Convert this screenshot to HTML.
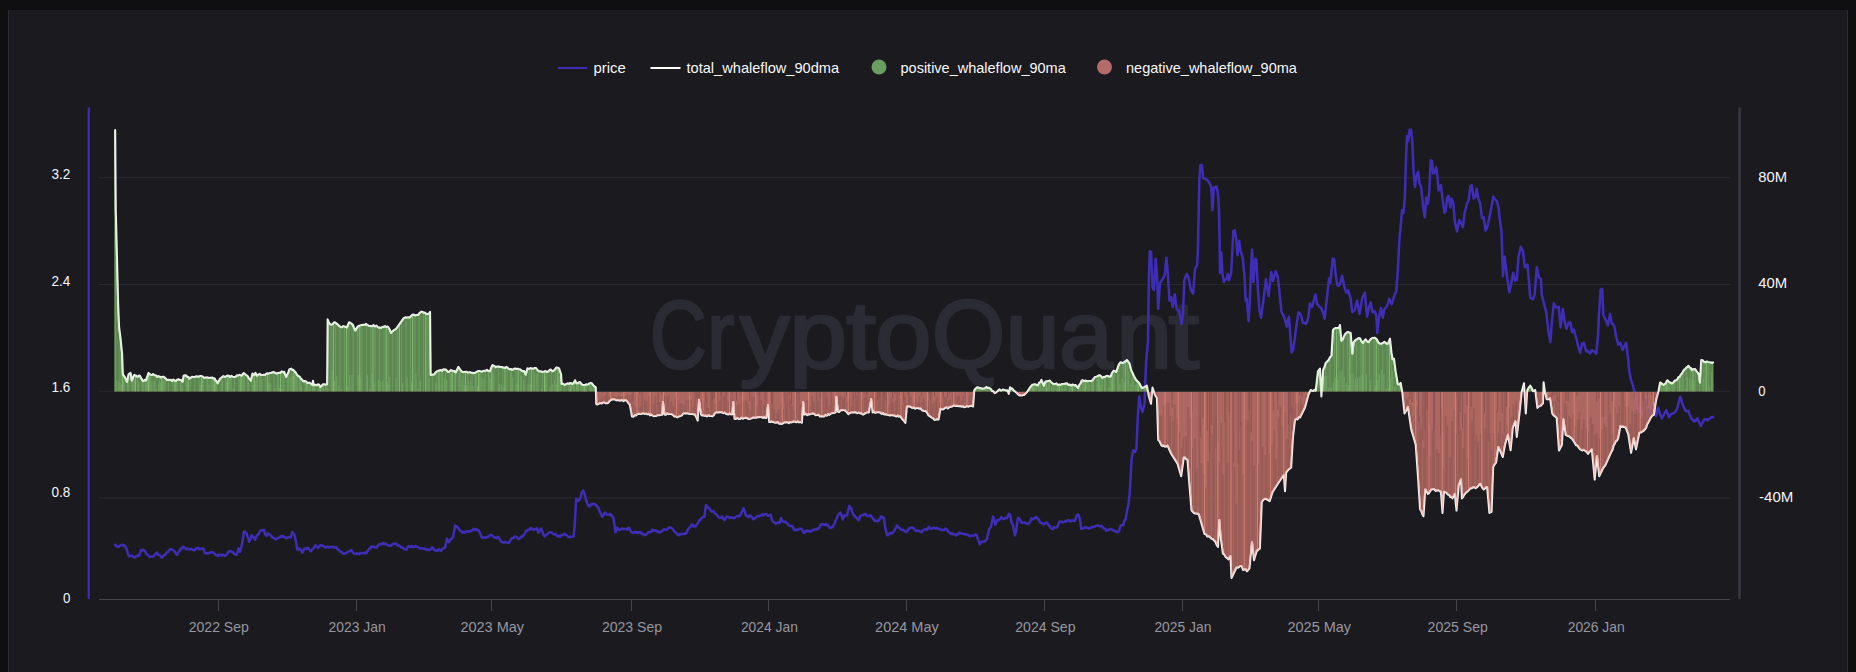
<!DOCTYPE html>
<html><head><meta charset="utf-8"><title>chart</title>
<style>
html,body{margin:0;padding:0;background:#0f0f11;}
body{width:1856px;height:672px;overflow:hidden;position:relative;font-family:"Liberation Sans", sans-serif;}
#panel{position:absolute;left:8px;top:10px;width:1838px;height:662px;background:#1b1a1f;border-left:1px solid #2d2c36;border-right:1px solid #2d2c36;}
</style></head><body>
<div id="panel"></div>
<svg width="1856" height="672" viewBox="0 0 1856 672" style="position:absolute;left:0;top:0" font-family='"Liberation Sans", sans-serif'><defs><clipPath id="ca"><path d="M114.2,391.8 L114.2,130.0 L115.2,130.0 L115.8,210.0 L118.2,305.0 L119.1,326.8 L120.6,338.7 L122.1,353.6 L122.9,374.4 L125.1,377.4 L127.0,381.8 L128.5,374.4 L130.6,372.9 L131.8,380.4 L134.0,375.1 L135.0,375.3 L136.0,375.5 L137.0,376.6 L138.0,376.6 L139.0,375.4 L140.0,375.9 L141.4,378.6 L142.9,381.1 L143.9,380.6 L144.9,379.8 L145.9,380.4 L148.5,372.9 L151.1,375.1 L152.1,375.0 L153.1,374.1 L154.1,374.8 L155.1,375.3 L156.2,375.4 L157.2,376.8 L158.5,376.1 L159.8,376.7 L161.0,377.4 L162.3,376.8 L163.5,376.7 L164.7,377.5 L166.0,378.8 L167.2,379.9 L168.4,379.7 L169.6,380.0 L170.9,379.8 L172.1,381.0 L173.4,379.5 L174.6,380.5 L175.9,380.9 L177.1,379.7 L178.4,379.3 L179.7,379.7 L181.1,380.0 L182.6,381.7 L183.6,375.6 L184.9,375.2 L186.3,375.4 L187.3,377.0 L188.4,376.9 L189.4,378.5 L192.0,376.8 L193.4,376.9 L194.8,376.9 L196.3,376.3 L197.7,376.6 L199.1,376.4 L200.3,375.9 L201.6,376.1 L202.8,376.6 L204.1,377.7 L205.3,377.6 L206.5,377.5 L207.7,377.3 L209.0,377.9 L210.2,377.7 L211.4,377.8 L212.4,377.6 L213.5,378.6 L214.5,378.2 L215.5,380.3 L216.6,381.1 L217.6,383.3 L220.1,378.5 L221.1,377.8 L222.2,376.9 L223.2,376.1 L224.6,376.7 L226.0,376.4 L227.4,375.5 L228.8,375.8 L230.1,377.0 L231.4,375.8 L232.6,376.6 L233.9,377.1 L235.3,377.0 L236.8,375.3 L238.2,375.4 L239.6,374.8 L241.6,375.6 L243.7,373.0 L246.2,375.1 L247.5,375.8 L248.8,378.2 L250.8,380.7 L252.4,373.5 L254.4,375.1 L255.4,372.7 L257.0,375.6 L259.5,373.8 L260.5,374.5 L261.6,375.1 L262.6,375.1 L263.9,374.8 L265.1,374.9 L266.4,373.4 L267.7,373.3 L268.9,373.4 L270.2,372.9 L271.4,372.7 L272.7,372.2 L273.9,372.0 L275.3,372.9 L276.6,373.5 L278.0,373.0 L279.2,372.7 L280.4,372.8 L281.7,371.4 L282.9,372.3 L284.1,371.7 L286.2,376.8 L287.2,374.6 L288.2,372.8 L289.2,369.5 L291.3,368.6 L292.3,370.0 L293.3,369.8 L294.3,371.0 L295.7,372.5 L297.0,374.7 L298.4,376.1 L299.6,376.5 L300.8,378.6 L301.9,379.3 L303.1,381.2 L304.5,380.9 L305.9,381.2 L307.3,382.9 L308.7,382.8 L309.9,382.8 L311.1,383.7 L312.3,384.8 L313.0,380.7 L313.8,385.3 L315.2,384.8 L316.5,385.3 L317.9,384.3 L319.2,384.8 L320.5,386.9 L323.0,384.3 L324.4,384.2 L325.7,384.4 L327.1,384.3 L327.6,319.3 L329.0,322.6 L330.4,324.5 L331.5,324.5 L332.6,324.1 L333.8,322.5 L334.9,322.3 L336.4,323.4 L337.8,324.5 L339.3,326.0 L340.6,326.9 L341.8,327.3 L343.1,326.1 L344.3,326.4 L345.6,326.8 L346.8,327.5 L349.0,322.3 L350.2,322.6 L351.5,323.7 L352.7,324.5 L354.0,327.7 L355.4,330.5 L356.5,328.6 L357.6,326.6 L358.7,326.0 L360.2,325.4 L361.7,324.9 L363.1,324.8 L364.6,325.1 L366.1,323.8 L367.1,324.9 L368.1,325.3 L369.1,326.0 L370.6,326.1 L372.1,326.2 L373.5,325.0 L375.0,326.4 L376.5,325.6 L377.5,326.7 L378.5,327.5 L379.5,327.5 L380.9,327.9 L382.2,327.0 L383.6,326.8 L385.0,326.1 L386.3,326.9 L387.7,326.5 L388.8,327.9 L390.0,330.1 L391.1,333.0 L392.3,331.5 L393.5,330.4 L394.7,329.7 L395.9,329.0 L403.3,318.6 L404.5,317.6 L405.7,317.3 L406.9,317.4 L408.1,317.1 L409.3,317.6 L410.8,316.4 L412.3,314.7 L413.8,314.6 L415.2,315.4 L416.7,315.0 L418.2,314.9 L419.3,313.2 L420.4,312.3 L421.5,311.6 L422.7,312.0 L423.9,312.6 L425.2,312.8 L426.4,314.1 L427.6,314.0 L428.9,313.5 L430.1,311.9 L430.7,375.0 L431.8,374.8 L433.0,374.6 L434.1,374.5 L435.4,372.6 L436.6,371.5 L437.9,371.0 L439.2,370.4 L440.6,370.0 L441.9,370.7 L443.3,369.2 L444.6,369.5 L446.1,369.6 L447.5,371.5 L448.6,372.1 L449.8,371.1 L450.9,370.1 L452.0,370.5 L453.2,371.2 L454.5,370.9 L455.7,372.4 L457.0,369.7 L458.4,366.8 L460.9,370.5 L462.2,371.7 L463.6,371.9 L464.9,372.0 L466.3,371.6 L467.6,372.4 L468.9,372.2 L470.1,371.9 L471.4,373.0 L472.6,372.7 L473.9,373.2 L475.1,372.7 L476.6,371.8 L478.0,371.1 L479.5,371.0 L480.8,371.4 L482.0,371.5 L483.2,371.0 L484.5,370.8 L485.8,370.6 L487.0,369.8 L488.4,371.0 L489.9,371.3 L491.2,367.7 L492.5,365.0 L493.6,365.8 L494.8,366.2 L495.9,367.2 L497.4,366.4 L498.9,366.5 L500.3,367.0 L501.8,367.0 L503.3,367.5 L504.3,367.6 L505.3,367.9 L506.3,366.8 L507.4,367.3 L508.6,368.7 L509.7,369.3 L510.8,369.0 L512.3,369.8 L513.8,368.8 L515.2,368.5 L516.7,369.0 L518.0,368.8 L519.2,369.1 L520.5,369.5 L521.7,370.6 L523.0,371.4 L524.2,371.0 L525.7,374.5 L527.4,368.3 L528.8,368.9 L530.3,368.1 L531.7,368.4 L533.2,368.6 L534.6,368.0 L536.1,368.1 L537.5,369.9 L539.0,371.2 L540.5,371.3 L541.8,371.8 L543.0,371.8 L544.2,371.4 L545.5,370.9 L546.8,372.0 L548.0,371.5 L549.4,370.2 L550.7,369.5 L552.4,371.3 L553.7,370.6 L554.9,369.6 L556.2,367.5 L557.7,367.7 L559.1,368.3 L561.1,374.2 L561.7,383.9 L563.1,383.7 L564.5,384.7 L566.0,384.3 L567.4,383.3 L568.8,383.9 L569.9,383.1 L571.0,382.9 L572.2,384.1 L573.3,383.2 L575.1,380.2 L576.3,383.2 L577.8,383.2 L579.2,382.1 L580.3,382.2 L581.5,384.1 L582.6,385.1 L583.7,384.9 L584.8,385.0 L586.0,384.3 L587.1,384.5 L588.2,384.3 L589.4,383.4 L590.7,382.9 L591.9,383.5 L594.1,386.1 L595.8,387.3 L596.2,404.0 L597.6,404.5 L598.9,403.7 L600.3,403.1 L601.6,403.6 L603.0,402.5 L604.3,402.5 L605.6,403.3 L606.9,403.3 L608.2,402.8 L609.5,401.2 L610.7,400.2 L612.0,399.5 L613.5,399.4 L615.0,399.5 L616.4,400.4 L617.9,400.0 L619.4,400.7 L620.7,400.5 L622.1,399.9 L623.4,401.2 L624.8,400.1 L626.1,400.3 L627.3,401.7 L628.6,403.4 L629.8,404.7 L632.0,416.6 L633.4,416.7 L634.7,415.3 L636.0,415.6 L637.4,414.3 L638.8,413.7 L640.2,413.9 L641.6,413.9 L643.1,413.1 L644.5,414.0 L646.0,413.6 L647.4,414.3 L648.6,413.7 L649.9,415.4 L651.1,414.6 L652.4,415.5 L653.6,416.2 L654.9,416.1 L656.4,415.9 L657.9,415.2 L659.3,415.2 L660.8,415.0 L662.3,414.6 L663.0,402.0 L664.5,414.6 L665.8,414.9 L667.1,413.5 L668.5,414.2 L669.8,413.9 L671.3,414.1 L672.8,414.9 L674.2,416.4 L675.7,416.6 L677.2,417.3 L678.7,416.6 L680.2,416.1 L681.6,415.6 L683.1,413.9 L684.6,413.2 L685.8,413.5 L687.0,413.5 L688.2,413.6 L689.4,414.1 L690.6,413.9 L692.1,414.0 L693.5,414.4 L695.0,414.6 L696.4,417.6 L697.7,420.6 L699.0,399.8 L701.0,414.6 L702.1,415.6 L703.2,415.4 L704.4,415.9 L705.5,415.4 L707.0,416.4 L708.5,415.3 L709.9,416.0 L711.4,416.1 L712.6,416.2 L713.8,415.2 L715.0,413.2 L716.2,412.5 L717.4,412.4 L718.9,412.5 L720.3,412.0 L721.8,412.5 L723.3,413.2 L724.6,412.6 L725.9,413.8 L727.2,414.2 L728.4,414.5 L729.7,413.4 L731.0,414.5 L732.3,414.3 L733.3,402.0 L734.5,418.8 L735.9,419.0 L737.3,417.9 L738.7,419.1 L740.0,419.1 L741.4,417.7 L742.8,418.8 L744.2,417.9 L745.7,417.8 L747.2,418.1 L748.6,419.1 L750.1,418.9 L751.6,418.4 L753.1,417.6 L754.6,417.8 L756.0,417.8 L757.5,417.2 L759.0,417.3 L760.2,416.9 L761.5,417.2 L762.8,418.0 L764.0,416.8 L765.2,417.9 L766.5,417.9 L768.0,405.0 L769.2,422.1 L770.4,422.1 L771.5,421.4 L772.7,422.0 L773.9,422.4 L775.2,422.8 L776.5,422.7 L777.8,422.0 L779.0,423.8 L780.3,423.6 L781.6,424.0 L782.9,423.3 L784.4,422.4 L785.9,422.6 L787.3,422.0 L788.8,423.2 L790.3,422.1 L791.8,422.4 L793.3,421.5 L794.8,421.7 L796.2,422.3 L797.7,421.3 L799.1,422.4 L800.5,421.9 L801.9,422.8 L803.2,402.0 L804.4,414.6 L805.7,413.8 L807.1,415.1 L808.4,414.3 L809.8,414.4 L811.1,413.9 L812.6,413.5 L814.1,413.7 L815.6,415.2 L817.0,415.0 L818.5,414.7 L820.0,416.6 L821.5,416.3 L823.0,416.4 L824.2,416.5 L825.5,414.8 L826.8,415.8 L828.0,414.0 L829.2,415.0 L830.5,413.9 L831.8,413.4 L833.1,412.9 L834.4,412.9 L835.7,412.4 L836.4,396.8 L837.9,411.7 L839.1,412.1 L840.3,410.6 L841.5,410.0 L842.7,410.3 L843.9,409.9 L845.4,410.9 L846.8,412.1 L848.3,414.3 L849.5,413.3 L850.7,412.7 L851.9,412.6 L853.1,412.4 L854.3,412.4 L855.7,412.2 L857.1,413.3 L858.6,412.6 L860.0,413.2 L861.0,413.7 L862.0,413.6 L863.0,414.7 L864.5,413.9 L866.0,412.7 L867.4,412.6 L868.9,412.5 L871.2,399.1 L872.6,412.5 L873.9,411.6 L875.3,412.9 L876.6,412.6 L878.0,411.9 L879.3,412.5 L880.5,412.8 L881.8,414.0 L883.0,412.9 L884.3,414.5 L885.5,414.2 L886.8,414.7 L888.3,414.9 L889.8,415.6 L891.2,415.0 L892.7,415.4 L894.2,415.5 L895.4,416.0 L896.6,416.6 L897.8,415.6 L899.0,416.7 L900.2,416.2 L901.5,418.2 L902.8,419.8 L904.1,421.1 L905.4,422.9 L906.9,406.5 L908.2,406.6 L909.5,406.4 L910.8,407.0 L912.1,408.0 L913.6,407.4 L915.1,408.8 L916.5,408.0 L918.0,408.0 L919.5,408.8 L920.7,408.5 L921.9,410.3 L923.1,410.8 L924.3,410.9 L925.5,411.0 L926.5,412.1 L927.5,413.5 L928.5,415.5 L930.0,416.2 L931.5,417.6 L932.9,418.2 L934.4,419.9 L935.8,419.7 L937.2,419.3 L938.6,419.6 L940.4,408.8 L941.9,409.4 L943.4,409.2 L944.8,408.1 L946.3,407.3 L947.8,408.4 L949.3,407.3 L950.8,406.7 L952.3,406.4 L953.7,405.5 L955.2,405.9 L956.7,405.8 L958.0,406.0 L959.2,406.3 L960.5,406.0 L961.7,406.8 L963.0,406.2 L964.2,407.3 L965.7,406.7 L967.2,406.3 L968.7,406.7 L970.1,405.9 L971.6,405.8 L973.1,406.5 L974.3,390.2 L975.4,388.8 L976.5,387.7 L977.6,387.2 L979.1,387.7 L980.5,387.9 L982.0,388.6 L983.5,388.4 L984.5,388.2 L985.5,387.8 L986.5,386.9 L987.6,388.1 L988.8,387.8 L989.9,388.2 L991.0,389.0 L992.2,391.3 L993.5,391.2 L994.7,393.2 L995.9,392.6 L997.2,391.5 L998.4,390.2 L999.5,389.2 L1000.6,390.4 L1001.8,390.3 L1002.9,389.4 L1004.4,389.9 L1005.8,390.4 L1007.3,390.2 L1008.8,393.9 L1010.0,387.2 L1011.1,388.7 L1012.2,388.4 L1013.3,389.9 L1014.8,391.3 L1016.2,392.6 L1017.7,393.9 L1018.7,395.0 L1019.7,395.4 L1020.7,395.4 L1021.8,395.6 L1023.0,394.8 L1024.1,395.0 L1025.2,393.9 L1026.2,393.0 L1027.2,391.8 L1028.2,390.2 L1029.6,387.9 L1030.9,386.3 L1032.1,384.8 L1033.4,384.5 L1034.9,384.1 L1036.3,384.8 L1037.8,385.4 L1039.0,382.8 L1040.3,382.3 L1041.5,379.8 L1043.8,385.7 L1045.3,381.5 L1046.8,381.3 L1048.2,381.1 L1049.7,380.5 L1051.0,381.9 L1052.2,383.1 L1053.5,383.9 L1055.0,384.0 L1056.5,383.3 L1057.9,384.9 L1059.4,384.5 L1060.6,384.7 L1061.8,384.1 L1063.0,384.0 L1064.2,384.0 L1065.4,383.5 L1066.9,383.2 L1068.3,384.9 L1069.8,384.5 L1071.3,385.4 L1072.4,384.5 L1073.5,384.8 L1074.7,385.5 L1075.8,385.0 L1078.0,387.9 L1079.2,384.9 L1080.5,383.4 L1081.7,380.5 L1082.5,380.0 L1083.8,381.2 L1085.0,380.6 L1086.2,380.7 L1087.5,381.2 L1088.8,381.0 L1090.0,381.1 L1091.2,381.0 L1092.5,380.2 L1095.0,376.9 L1096.2,376.6 L1097.5,376.1 L1098.8,375.2 L1100.0,375.3 L1101.2,376.3 L1102.5,377.8 L1103.8,376.7 L1105.0,377.0 L1106.2,376.0 L1107.7,375.8 L1109.1,376.5 L1110.6,376.5 L1111.6,373.7 L1112.7,371.8 L1113.8,370.6 L1116.2,371.9 L1118.8,364.4 L1120.6,362.2 L1123.1,363.1 L1124.4,361.7 L1125.6,361.3 L1126.9,360.0 L1129.4,363.1 L1131.2,370.0 L1135.0,378.1 L1136.2,379.9 L1137.5,381.3 L1138.8,382.5 L1139.8,384.0 L1140.9,386.3 L1141.9,388.1 L1142.9,387.6 L1144.0,387.2 L1145.0,386.9 L1146.9,385.6 L1148.8,396.2 L1151.0,403.8 L1152.5,387.5 L1155.0,395.0 L1156.9,398.1 L1158.2,440.0 L1159.6,441.4 L1161.1,444.9 L1162.5,446.2 L1163.8,445.5 L1165.0,446.7 L1166.2,446.5 L1167.5,445.5 L1171.2,453.8 L1177.5,463.8 L1181.2,476.2 L1183.8,457.5 L1185.0,457.5 L1186.2,459.1 L1187.5,460.0 L1189.0,480.0 L1191.5,510.3 L1192.8,511.9 L1194.2,513.3 L1195.5,513.5 L1196.6,513.7 L1197.7,513.7 L1198.8,514.4 L1204.5,534.0 L1206.0,534.4 L1207.4,536.6 L1208.8,536.2 L1210.3,537.6 L1211.5,538.7 L1212.8,538.9 L1214.0,540.5 L1215.2,541.4 L1216.6,545.0 L1218.0,547.0 L1219.3,520.0 L1220.9,539.0 L1222.9,553.6 L1224.2,554.4 L1225.6,557.1 L1227.0,558.0 L1228.3,559.4 L1230.4,556.0 L1231.5,578.0 L1236.5,567.5 L1237.7,567.8 L1239.0,567.1 L1240.2,565.9 L1241.4,566.0 L1243.0,570.0 L1245.5,569.2 L1247.0,571.3 L1249.5,568.4 L1252.0,542.2 L1254.0,560.2 L1256.9,550.4 L1257.9,550.5 L1258.9,549.2 L1259.9,548.7 L1261.8,502.0 L1263.2,500.1 L1264.5,499.0 L1265.9,498.8 L1267.2,499.6 L1268.4,500.4 L1269.7,501.3 L1272.5,492.3 L1278.2,483.3 L1283.8,475.0 L1285.0,491.2 L1286.2,472.5 L1287.5,470.9 L1288.8,469.4 L1290.0,468.5 L1291.2,467.5 L1293.0,437.5 L1295.0,420.0 L1296.2,419.0 L1297.5,419.4 L1298.8,417.2 L1300.0,417.5 L1305.0,407.5 L1308.6,394.3 L1310.7,390.0 L1312.0,390.6 L1313.2,391.0 L1314.5,389.8 L1315.7,390.7 L1317.9,371.4 L1320.0,368.6 L1321.4,396.4 L1323.1,370.0 L1324.4,367.2 L1325.7,362.9 L1327.1,361.5 L1328.6,360.0 L1330.0,357.1 L1331.4,355.7 L1332.9,330.0 L1334.3,328.7 L1335.7,327.9 L1337.2,327.9 L1338.6,328.3 L1340.0,325.0 L1341.4,340.7 L1342.6,339.5 L1343.8,336.6 L1345.0,334.3 L1347.1,332.1 L1348.3,332.1 L1349.5,332.5 L1350.7,332.9 L1352.4,353.6 L1353.6,342.1 L1354.8,340.8 L1355.9,339.4 L1357.1,339.3 L1358.5,338.1 L1360.0,338.3 L1361.5,341.2 L1362.9,342.9 L1364.3,340.7 L1365.7,339.3 L1367.2,341.5 L1368.6,342.1 L1369.8,340.2 L1370.9,338.9 L1372.1,337.9 L1373.3,338.1 L1374.5,337.6 L1375.7,338.3 L1377.1,339.8 L1378.6,342.7 L1380.0,343.6 L1381.4,343.7 L1382.9,342.9 L1384.3,341.7 L1385.5,342.6 L1386.7,343.7 L1387.9,343.6 L1390.0,338.6 L1391.7,354.3 L1392.6,359.3 L1394.0,358.6 L1395.7,371.4 L1397.9,384.3 L1399.3,384.4 L1400.7,382.9 L1402.3,392.3 L1404.5,413.5 L1405.6,411.4 L1406.8,409.4 L1407.9,406.8 L1411.2,429.1 L1415.7,444.8 L1417.9,476.0 L1420.1,509.5 L1421.2,510.9 L1422.4,514.4 L1423.5,516.2 L1425.3,489.4 L1426.7,491.6 L1428.0,493.9 L1429.1,492.9 L1430.2,491.2 L1431.3,489.4 L1432.7,489.3 L1434.1,489.1 L1435.5,491.0 L1436.9,490.5 L1438.2,490.2 L1439.6,491.2 L1440.9,491.7 L1442.5,512.9 L1444.0,491.7 L1445.3,492.2 L1446.6,493.0 L1447.9,494.6 L1449.2,495.0 L1450.3,497.0 L1451.4,496.8 L1452.5,498.4 L1454.8,493.9 L1456.5,510.6 L1458.8,485.0 L1461.0,479.4 L1461.9,498.4 L1463.2,496.8 L1464.6,494.3 L1465.9,492.8 L1467.3,491.8 L1468.7,490.4 L1470.1,488.8 L1471.5,488.3 L1472.9,487.4 L1474.3,487.2 L1475.7,488.2 L1477.1,487.2 L1478.2,486.1 L1479.3,484.4 L1480.4,483.8 L1481.5,486.4 L1482.7,488.4 L1483.8,489.4 L1484.9,488.6 L1486.0,487.3 L1487.1,487.2 L1489.4,512.9 L1491.6,511.8 L1493.2,467.1 L1494.7,464.3 L1496.1,462.6 L1498.3,447.0 L1500.5,451.5 L1502.8,457.0 L1505.0,444.8 L1507.9,434.7 L1510.6,450.3 L1512.8,428.0 L1514.2,423.9 L1515.5,421.3 L1516.8,436.9 L1519.5,413.5 L1521.8,391.2 L1524.0,383.3 L1525.8,413.5 L1527.3,390.0 L1528.8,387.5 L1530.2,385.6 L1531.6,387.7 L1532.9,391.2 L1535.2,390.0 L1537.4,407.9 L1538.5,406.7 L1539.6,406.0 L1540.7,405.7 L1543.0,403.4 L1543.6,382.2 L1544.9,391.4 L1546.7,399.2 L1547.8,399.0 L1548.9,399.2 L1550.0,398.1 L1552.3,413.7 L1553.8,415.6 L1555.2,416.5 L1556.7,418.2 L1559.0,450.5 L1560.5,447.6 L1561.9,445.0 L1563.4,419.3 L1565.7,434.9 L1567.2,435.7 L1568.6,436.1 L1570.1,437.1 L1571.2,438.2 L1572.3,439.1 L1573.5,440.9 L1574.6,442.7 L1576.0,445.2 L1577.4,445.4 L1578.8,447.7 L1580.2,449.4 L1581.3,449.9 L1582.5,450.6 L1583.6,449.7 L1584.7,450.5 L1585.8,451.2 L1586.9,452.3 L1588.0,453.9 L1589.3,452.2 L1590.5,450.8 L1591.8,449.4 L1594.7,479.6 L1596.9,456.1 L1599.2,476.2 L1603.6,467.3 L1604.7,466.3 L1605.9,464.2 L1607.0,461.7 L1611.5,451.7 L1612.6,449.7 L1613.7,445.6 L1614.8,443.8 L1615.9,441.1 L1617.1,440.5 L1618.2,438.3 L1620.4,426.0 L1621.5,427.0 L1622.7,426.5 L1623.8,427.0 L1624.9,427.1 L1626.0,428.4 L1627.1,431.4 L1628.2,433.8 L1631.1,452.8 L1633.8,438.3 L1636.0,449.4 L1639.4,432.7 L1640.8,432.6 L1642.2,431.6 L1643.6,430.8 L1645.0,429.3 L1646.1,427.9 L1647.2,424.4 L1648.3,422.6 L1650.5,418.2 L1651.6,416.4 L1652.8,415.3 L1653.9,414.8 L1656.1,400.3 L1658.4,391.4 L1660.1,382.4 L1661.4,383.2 L1662.6,384.3 L1663.9,384.7 L1665.0,384.0 L1666.2,382.1 L1667.3,380.2 L1668.4,381.3 L1669.5,382.3 L1670.7,382.6 L1671.8,383.5 L1673.3,382.5 L1674.7,380.5 L1676.2,380.2 L1677.3,379.3 L1678.5,376.9 L1679.6,376.8 L1680.7,374.6 L1681.8,373.5 L1683.0,371.4 L1684.1,369.7 L1685.2,369.0 L1686.3,367.5 L1687.4,367.0 L1688.5,365.7 L1689.6,367.5 L1690.8,367.9 L1691.9,370.1 L1693.0,369.0 L1694.1,369.4 L1695.2,369.0 L1696.5,371.0 L1697.7,372.5 L1699.0,374.6 L1699.9,382.4 L1701.2,360.1 L1702.6,360.3 L1703.9,361.7 L1705.3,362.3 L1706.8,361.4 L1708.2,361.9 L1709.7,362.3 L1710.8,362.2 L1712.0,363.1 L1713.1,362.3 L1713.5,362.3 L1713.5,391.8Z"/></clipPath><clipPath id="up"><rect x="100" y="100" width="1640" height="291.75"/></clipPath><clipPath id="dn"><rect x="100" y="391.75" width="1640" height="208.25"/></clipPath></defs><rect x="99" y="177.25" width="1631" height="1" fill="#2a2a31"/><rect x="99" y="284.0" width="1631" height="1" fill="#2a2a31"/><rect x="99" y="390.75" width="1631" height="1" fill="#2a2a31"/><rect x="99" y="497.5" width="1631" height="1" fill="#2a2a31"/><rect x="99" y="599" width="1631" height="1" fill="#45454d"/><rect x="218" y="600" width="1" height="11" fill="#45454d"/><text x="188.7" y="632" font-size="15" fill="#9797a0" textLength="60.2" lengthAdjust="spacingAndGlyphs">2022 Sep</text><rect x="356" y="600" width="1" height="11" fill="#45454d"/><text x="328.6" y="632" font-size="15" fill="#9797a0" textLength="57.0" lengthAdjust="spacingAndGlyphs">2023 Jan</text><rect x="491" y="600" width="1" height="11" fill="#45454d"/><text x="460.4" y="632" font-size="15" fill="#9797a0" textLength="63.6" lengthAdjust="spacingAndGlyphs">2023 May</text><rect x="631" y="600" width="1" height="11" fill="#45454d"/><text x="601.9" y="632" font-size="15" fill="#9797a0" textLength="60.2" lengthAdjust="spacingAndGlyphs">2023 Sep</text><rect x="768" y="600" width="1" height="11" fill="#45454d"/><text x="740.9" y="632" font-size="15" fill="#9797a0" textLength="57.0" lengthAdjust="spacingAndGlyphs">2024 Jan</text><rect x="906" y="600" width="1" height="11" fill="#45454d"/><text x="875.1" y="632" font-size="15" fill="#9797a0" textLength="63.6" lengthAdjust="spacingAndGlyphs">2024 May</text><rect x="1044" y="600" width="1" height="11" fill="#45454d"/><text x="1015.3" y="632" font-size="15" fill="#9797a0" textLength="60.2" lengthAdjust="spacingAndGlyphs">2024 Sep</text><rect x="1182" y="600" width="1" height="11" fill="#45454d"/><text x="1154.4" y="632" font-size="15" fill="#9797a0" textLength="57.0" lengthAdjust="spacingAndGlyphs">2025 Jan</text><rect x="1318" y="600" width="1" height="11" fill="#45454d"/><text x="1287.5" y="632" font-size="15" fill="#9797a0" textLength="63.6" lengthAdjust="spacingAndGlyphs">2025 May</text><rect x="1456" y="600" width="1" height="11" fill="#45454d"/><text x="1427.6" y="632" font-size="15" fill="#9797a0" textLength="60.2" lengthAdjust="spacingAndGlyphs">2025 Sep</text><rect x="1595" y="600" width="1" height="11" fill="#45454d"/><text x="1567.7" y="632" font-size="15" fill="#9797a0" textLength="57.0" lengthAdjust="spacingAndGlyphs">2026 Jan</text><rect x="87.6" y="107.5" width="2.3" height="491.4" fill="#3f2cb6"/><rect x="1738.4" y="107.5" width="2.4" height="491.4" fill="#3b3a43"/><text x="51.5" y="178.9" font-size="15" fill="#f6f6f8" textLength="18.8" lengthAdjust="spacingAndGlyphs">3.2</text><text x="51.5" y="285.9" font-size="15" fill="#f6f6f8" textLength="18.8" lengthAdjust="spacingAndGlyphs">2.4</text><text x="51.5" y="391.9" font-size="15" fill="#f6f6f8" textLength="18.8" lengthAdjust="spacingAndGlyphs">1.6</text><text x="51.5" y="496.9" font-size="15" fill="#f6f6f8" textLength="18.8" lengthAdjust="spacingAndGlyphs">0.8</text><text x="62.9" y="603.4" font-size="15" fill="#f6f6f8" textLength="7.4" lengthAdjust="spacingAndGlyphs">0</text><text x="1758.2" y="181.9" font-size="15" fill="#f6f6f8" textLength="28.8" lengthAdjust="spacingAndGlyphs">80M</text><text x="1758.2" y="288.29999999999995" font-size="15" fill="#f6f6f8" textLength="28.9" lengthAdjust="spacingAndGlyphs">40M</text><text x="1758.2" y="396.0" font-size="15" fill="#f6f6f8" textLength="7.3" lengthAdjust="spacingAndGlyphs">0</text><text x="1759" y="502.4" font-size="15" fill="#f6f6f8" textLength="34.3" lengthAdjust="spacingAndGlyphs">-40M</text><text y="368.3" font-size="96" fill="#2b2b33" stroke="#2b2b33" stroke-width="2.6" stroke-linejoin="round"><tspan x="649.78" textLength="57.09" lengthAdjust="spacingAndGlyphs">C</tspan><tspan x="706.95" textLength="27.57" lengthAdjust="spacingAndGlyphs">r</tspan><tspan x="739.75" textLength="49.99" lengthAdjust="spacingAndGlyphs">y</tspan><tspan x="789.08" textLength="58.20" lengthAdjust="spacingAndGlyphs">p</tspan><tspan x="846.14" textLength="30.15" lengthAdjust="spacingAndGlyphs">t</tspan><tspan x="874.93" textLength="56.69" lengthAdjust="spacingAndGlyphs">o</tspan><tspan x="931.74" textLength="73.60" lengthAdjust="spacingAndGlyphs">Q</tspan><tspan x="1005.43" textLength="54.23" lengthAdjust="spacingAndGlyphs">u</tspan><tspan x="1058.97" textLength="53.90" lengthAdjust="spacingAndGlyphs">a</tspan><tspan x="1116.05" textLength="56.26" lengthAdjust="spacingAndGlyphs">n</tspan><tspan x="1168.35" textLength="30.92" lengthAdjust="spacingAndGlyphs">t</tspan></text><path d="M115.0,544.8 L116.1,545.7 L117.3,546.7 L118.4,546.8 L119.5,546.2 L120.6,545.2 L121.7,545.1 L122.7,544.8 L123.7,546.0 L124.7,545.4 L126.7,549.3 L128.7,556.0 L129.7,556.3 L130.7,555.7 L131.7,556.0 L132.5,555.8 L133.4,557.1 L134.2,557.6 L135.0,557.3 L135.9,556.4 L136.7,556.0 L137.6,555.4 L138.4,555.9 L139.3,555.5 L140.9,550.1 L141.9,550.8 L142.8,549.7 L143.8,550.1 L144.8,550.8 L145.8,552.6 L146.8,554.3 L147.9,555.1 L149.0,556.5 L150.1,557.1 L151.2,556.2 L152.2,556.8 L153.2,556.3 L154.3,555.5 L155.2,554.5 L156.2,553.1 L157.1,552.6 L158.2,554.6 L159.3,555.1 L160.2,555.6 L161.2,557.3 L162.1,557.6 L163.1,556.1 L164.1,555.1 L165.0,554.9 L166.0,553.4 L167.1,552.0 L168.1,552.1 L169.1,550.3 L170.2,549.3 L171.2,549.2 L172.2,549.7 L173.3,550.4 L174.3,551.0 L175.3,552.5 L176.2,554.3 L177.2,554.8 L178.2,552.6 L179.2,551.3 L180.2,549.8 L181.1,548.3 L182.1,548.6 L183.0,546.8 L184.0,547.1 L185.0,547.7 L186.0,549.3 L187.0,548.5 L188.0,548.9 L189.0,549.6 L190.0,549.5 L191.0,548.8 L192.1,549.5 L193.3,550.3 L194.4,549.8 L195.2,549.9 L196.1,548.4 L196.9,548.1 L198.0,547.8 L199.1,549.3 L200.2,548.8 L201.3,549.2 L202.5,548.1 L203.6,548.8 L204.9,553.1 L206.1,553.5 L207.4,553.1 L208.6,553.4 L209.7,552.8 L210.8,552.3 L211.9,552.1 L212.9,552.4 L214.0,553.0 L215.1,554.3 L216.1,555.5 L217.2,555.1 L218.2,555.9 L219.2,554.4 L220.3,554.8 L221.4,555.7 L222.4,554.6 L223.5,555.0 L224.5,555.9 L225.6,555.5 L226.7,554.6 L227.8,552.7 L228.9,551.4 L229.9,550.8 L231.0,551.6 L232.0,551.8 L233.1,552.4 L234.2,554.1 L235.3,554.3 L236.6,554.8 L238.6,548.4 L240.0,551.8 L242.0,544.3 L244.0,531.7 L244.9,531.8 L245.8,532.6 L246.7,533.4 L247.5,536.8 L248.4,538.2 L249.2,541.8 L250.0,539.4 L250.9,537.8 L251.7,535.1 L252.8,537.1 L253.9,537.5 L255.0,539.8 L255.9,537.4 L256.9,535.7 L257.8,534.7 L258.9,533.8 L260.1,531.2 L261.2,530.1 L262.1,530.4 L263.1,530.5 L264.0,529.7 L265.0,534.2 L266.7,535.9 L267.9,533.4 L269.0,534.0 L270.1,534.7 L271.2,535.9 L272.2,537.5 L273.3,537.8 L274.3,538.1 L275.4,539.3 L276.4,539.2 L277.5,538.2 L278.6,537.7 L279.6,537.6 L280.7,536.2 L281.8,536.9 L282.9,535.9 L283.9,537.1 L285.0,537.2 L286.1,538.3 L287.1,538.1 L288.2,537.2 L289.3,537.3 L290.4,537.6 L292.4,532.1 L293.5,533.6 L294.6,535.1 L296.3,543.4 L297.1,549.3 L297.9,549.7 L298.8,549.4 L299.6,548.4 L300.5,549.6 L301.5,550.8 L302.4,552.6 L303.5,550.4 L304.6,548.4 L305.6,548.4 L306.6,549.1 L307.5,547.9 L308.5,548.4 L310.5,551.4 L311.5,550.6 L312.5,549.3 L313.5,548.1 L314.5,546.8 L315.5,545.1 L316.3,546.3 L317.2,546.8 L318.0,548.1 L318.8,546.8 L319.7,545.9 L320.5,545.1 L321.6,546.1 L322.6,545.4 L323.6,546.1 L324.7,547.1 L325.7,547.6 L326.8,546.9 L327.8,546.8 L328.8,547.6 L329.9,546.7 L330.9,547.3 L331.9,546.7 L333.0,546.8 L334.1,547.7 L335.2,547.6 L336.3,547.1 L337.4,549.3 L338.6,549.6 L339.7,551.4 L340.8,551.5 L341.9,552.4 L343.0,553.8 L344.1,553.5 L345.1,553.5 L346.1,552.8 L347.2,552.6 L348.2,551.5 L349.3,551.2 L350.3,550.9 L351.4,550.1 L352.2,551.5 L353.1,552.7 L353.9,553.4 L354.9,554.1 L356.0,553.9 L357.1,553.1 L358.1,553.8 L359.1,554.2 L360.1,553.1 L361.2,553.4 L362.2,553.1 L363.2,552.9 L364.3,553.5 L365.3,552.6 L366.4,553.1 L367.4,551.4 L368.4,550.0 L369.4,548.5 L370.4,548.4 L371.4,546.4 L372.4,546.8 L373.5,546.7 L374.6,547.1 L375.6,547.6 L376.7,547.5 L377.8,545.7 L378.9,544.8 L379.9,543.9 L381.0,544.4 L382.1,543.8 L383.1,543.1 L384.2,544.3 L385.2,543.3 L386.2,544.3 L387.3,544.8 L388.4,545.5 L389.4,545.6 L390.4,545.9 L391.5,545.4 L392.6,544.1 L393.7,544.0 L394.8,543.8 L395.9,543.6 L396.9,544.1 L397.9,545.8 L399.0,545.4 L400.1,546.2 L401.1,547.5 L402.2,547.3 L403.3,548.2 L404.3,549.3 L405.3,549.2 L406.3,549.8 L407.5,547.5 L408.7,546.0 L409.6,546.6 L410.6,547.1 L411.6,546.0 L412.5,546.8 L413.6,546.9 L414.6,546.8 L415.6,546.1 L416.7,546.5 L417.8,547.1 L418.9,547.5 L420.0,548.8 L421.1,548.3 L422.1,548.3 L423.1,548.7 L424.2,548.5 L425.0,549.2 L425.9,548.9 L426.7,549.8 L427.7,549.2 L428.7,549.8 L429.7,550.2 L430.9,549.0 L432.1,547.2 L433.1,548.2 L434.2,550.2 L435.0,550.2 L435.9,550.3 L436.7,551.0 L437.8,550.6 L438.8,549.3 L439.9,550.2 L440.9,551.0 L441.7,549.5 L442.6,548.7 L443.4,548.5 L445.1,547.2 L447.1,538.8 L448.8,542.2 L449.9,540.6 L450.9,539.3 L452.0,538.3 L453.1,537.1 L455.1,525.5 L455.9,526.4 L456.8,526.2 L457.6,527.6 L458.4,528.0 L459.3,529.8 L460.1,530.5 L460.9,531.1 L461.8,531.6 L462.6,532.6 L463.7,531.9 L464.9,532.6 L466.0,531.5 L467.1,531.2 L468.1,531.6 L469.1,531.3 L470.2,531.5 L471.3,530.5 L472.4,530.3 L473.5,528.8 L474.3,529.9 L475.2,529.2 L476.0,529.8 L476.8,529.4 L477.7,530.4 L478.5,530.1 L479.5,532.0 L480.5,534.0 L481.5,537.1 L482.7,537.9 L484.0,537.3 L485.2,537.6 L486.0,537.8 L486.9,536.9 L487.7,536.8 L488.6,536.7 L489.6,535.4 L490.5,534.8 L491.5,535.0 L492.5,535.6 L493.5,537.1 L494.3,537.3 L495.2,537.7 L496.0,537.6 L497.0,538.3 L497.9,536.9 L498.9,537.6 L500.0,539.7 L501.1,541.5 L501.9,541.7 L502.8,542.3 L503.6,542.7 L504.8,542.0 L505.9,542.2 L507.1,542.4 L508.2,543.0 L509.4,542.2 L510.2,540.2 L511.1,539.5 L511.9,538.1 L512.7,538.2 L513.6,538.0 L514.4,536.8 L515.2,536.4 L516.1,536.4 L516.9,537.1 L517.7,538.4 L518.6,539.0 L519.4,538.8 L520.2,538.0 L521.1,536.6 L521.9,536.5 L522.7,536.4 L523.6,534.9 L524.4,534.3 L526.1,530.5 L526.9,530.9 L527.8,530.2 L528.6,529.8 L529.4,529.8 L530.3,528.1 L531.1,528.1 L531.9,529.2 L532.8,529.0 L533.6,530.1 L534.7,529.3 L535.9,529.3 L537.0,528.1 L538.3,532.6 L539.2,531.8 L540.2,529.4 L541.1,528.5 L542.2,530.9 L543.3,534.3 L544.5,536.5 L545.3,535.6 L546.2,535.1 L547.0,534.3 L548.0,533.6 L549.1,532.6 L550.2,532.2 L551.2,532.1 L552.3,533.2 L553.4,534.2 L554.5,534.3 L555.5,534.1 L556.5,535.4 L557.5,536.2 L558.5,535.6 L559.5,536.8 L560.5,536.7 L561.5,535.0 L562.5,535.2 L563.5,534.5 L564.5,533.8 L565.5,534.8 L566.6,535.1 L567.7,536.1 L568.7,537.1 L569.7,537.1 L570.7,536.7 L571.7,537.0 L572.7,536.5 L573.7,536.5 L575.0,520.1 L576.2,498.7 L577.3,499.7 L578.4,500.9 L580.4,498.4 L581.7,492.5 L583.2,490.4 L584.3,493.2 L585.4,497.6 L586.2,500.3 L587.1,502.6 L587.9,505.1 L589.6,506.4 L590.4,505.1 L591.3,505.0 L592.1,503.7 L592.9,504.3 L593.8,504.0 L594.6,504.2 L595.5,504.5 L596.5,505.8 L597.4,506.7 L598.4,508.2 L599.4,510.4 L600.4,513.1 L602.4,516.8 L603.3,515.3 L604.2,513.3 L605.1,512.6 L607.1,514.8 L608.1,514.7 L609.2,514.8 L610.2,514.1 L611.3,514.8 L612.1,516.5 L613.0,517.1 L613.8,519.3 L615.5,532.6 L617.1,527.6 L617.9,528.8 L618.8,529.7 L619.6,530.1 L620.7,529.7 L621.9,528.5 L623.0,528.8 L624.1,529.0 L625.2,528.9 L626.3,529.3 L627.3,529.6 L628.2,527.9 L629.2,528.1 L630.2,530.2 L631.2,531.9 L632.2,532.6 L633.2,532.8 L634.2,532.9 L635.3,531.7 L636.3,532.1 L637.3,532.9 L638.4,532.1 L639.5,532.8 L640.5,532.1 L641.6,533.8 L642.8,533.6 L643.9,535.1 L645.0,535.0 L646.1,534.7 L647.2,533.5 L648.3,532.3 L649.4,532.3 L650.5,532.1 L651.3,531.7 L652.2,530.0 L653.0,529.8 L654.1,530.8 L655.3,530.2 L656.4,531.0 L657.5,532.0 L658.6,531.5 L659.7,532.6 L660.8,531.7 L662.0,531.4 L663.1,529.8 L664.2,529.3 L665.3,529.4 L666.4,529.8 L667.2,529.1 L668.1,528.0 L668.9,527.6 L670.0,527.3 L671.0,527.9 L672.0,528.3 L673.1,529.3 L674.1,531.2 L675.1,531.9 L676.1,533.4 L677.1,533.4 L678.1,535.1 L679.1,535.2 L680.2,533.8 L681.2,534.2 L682.3,533.8 L683.4,534.0 L684.5,533.6 L685.6,533.8 L686.4,532.9 L687.3,530.9 L688.1,529.3 L689.2,527.9 L690.4,526.9 L691.5,524.8 L692.5,524.6 L693.5,526.4 L694.6,526.3 L695.6,526.5 L696.7,524.5 L697.9,523.2 L699.0,520.9 L699.8,519.6 L700.7,519.8 L701.5,518.1 L702.4,517.8 L703.4,517.0 L704.3,516.8 L706.0,505.1 L707.2,506.8 L708.4,507.6 L709.2,508.6 L710.1,509.3 L710.9,510.9 L712.0,511.7 L713.1,511.0 L714.2,512.1 L715.3,513.9 L716.4,514.2 L717.5,515.9 L718.6,517.2 L719.7,518.1 L720.9,518.0 L722.0,516.4 L722.9,517.8 L723.8,519.1 L724.7,520.1 L726.7,516.4 L727.7,516.7 L728.7,516.7 L729.7,518.1 L730.9,517.5 L732.2,517.7 L733.4,518.4 L734.5,518.0 L735.5,517.0 L736.5,516.5 L737.6,515.9 L738.5,516.4 L739.5,515.0 L740.4,515.4 L741.4,512.5 L742.4,510.8 L743.4,508.1 L744.2,509.9 L745.1,512.5 L745.9,515.9 L746.7,516.1 L747.6,516.1 L748.4,517.1 L750.1,515.4 L751.2,516.5 L752.3,517.6 L753.4,519.3 L754.5,518.6 L755.7,517.7 L756.8,516.7 L757.8,515.9 L758.9,516.2 L760.0,515.7 L761.0,515.4 L762.0,514.5 L763.0,515.5 L764.1,514.1 L765.1,514.2 L766.1,514.2 L767.1,514.7 L768.1,515.9 L769.3,515.5 L770.5,514.7 L771.6,518.4 L772.7,520.9 L773.8,522.3 L774.9,522.7 L776.0,523.8 L777.0,523.1 L777.9,522.4 L778.8,523.1 L779.8,522.6 L781.0,518.1 L782.7,521.8 L783.6,521.9 L784.6,521.6 L785.5,521.8 L786.5,523.0 L787.5,523.7 L788.5,524.8 L789.6,525.9 L790.8,525.9 L791.9,525.9 L792.9,527.0 L793.9,529.5 L794.9,530.4 L795.8,529.5 L796.8,530.1 L797.7,529.8 L798.8,529.3 L800.0,528.7 L801.1,528.8 L802.2,529.5 L803.3,532.1 L804.4,533.1 L805.2,531.4 L806.1,531.4 L806.9,530.4 L808.0,531.6 L809.1,530.8 L810.2,531.8 L811.3,530.7 L812.5,530.6 L813.6,529.8 L814.7,529.5 L815.7,529.5 L816.8,529.5 L817.8,528.2 L818.9,528.4 L820.0,526.0 L821.1,524.3 L821.9,524.1 L822.8,523.9 L823.6,524.8 L824.4,525.1 L825.3,524.6 L826.1,523.8 L827.2,525.4 L828.3,525.5 L829.4,527.6 L830.5,527.9 L831.7,527.5 L832.8,526.8 L833.6,525.1 L834.5,523.9 L835.3,521.8 L836.1,519.8 L837.0,517.4 L837.8,515.9 L838.6,514.2 L839.5,513.3 L840.3,512.6 L841.1,514.1 L842.0,516.8 L842.8,519.3 L844.5,515.4 L845.3,515.8 L846.2,515.7 L847.0,515.4 L848.1,511.2 L849.2,505.9 L851.2,508.4 L852.2,511.9 L853.3,514.7 L854.3,515.3 L855.2,516.7 L856.2,517.6 L857.0,518.3 L857.9,519.7 L858.7,520.1 L860.3,515.9 L861.3,515.7 L862.4,515.0 L863.4,515.1 L865.4,513.7 L867.0,515.9 L868.1,515.9 L869.3,516.1 L870.4,515.1 L871.4,516.1 L872.5,518.6 L873.5,518.7 L874.5,520.9 L875.6,520.7 L876.8,520.8 L877.9,521.4 L879.0,520.1 L880.1,518.8 L881.2,516.4 L882.0,517.2 L882.9,516.9 L883.7,517.6 L885.4,528.4 L887.1,535.1 L887.9,535.2 L888.8,533.8 L889.6,533.5 L890.7,532.8 L891.8,533.6 L892.9,532.6 L894.0,531.0 L895.0,529.3 L896.0,527.5 L897.1,525.4 L898.2,527.3 L899.3,527.6 L900.4,528.8 L901.5,529.8 L902.7,530.0 L903.8,530.1 L904.6,531.3 L905.5,531.3 L906.3,532.1 L907.1,531.4 L908.0,530.0 L908.8,528.8 L910.0,528.1 L911.3,527.5 L912.5,527.6 L913.5,528.6 L914.4,528.6 L915.3,530.7 L916.3,530.9 L917.3,530.6 L918.4,530.7 L919.5,531.2 L920.5,532.1 L921.5,532.2 L922.6,530.7 L923.7,529.8 L924.7,529.8 L925.5,529.0 L926.4,529.1 L927.2,529.8 L928.8,526.8 L930.8,528.8 L931.8,528.7 L932.8,528.2 L933.8,527.6 L934.8,528.2 L935.9,528.6 L937.0,527.8 L938.0,528.8 L939.0,529.2 L940.1,529.1 L941.2,530.1 L942.2,529.8 L943.2,530.1 L944.3,529.9 L945.4,528.4 L946.4,528.8 L947.5,530.7 L948.6,532.0 L949.7,532.6 L950.8,533.9 L952.0,533.1 L953.1,534.3 L954.2,534.2 L955.3,534.5 L956.4,535.5 L957.5,533.8 L958.6,534.1 L959.7,532.6 L960.8,533.4 L961.8,533.4 L962.9,534.0 L963.9,533.8 L964.9,534.4 L965.9,534.3 L966.9,534.4 L967.9,534.8 L968.9,535.9 L970.0,536.3 L971.0,535.4 L972.0,535.6 L973.1,535.9 L974.2,535.4 L975.3,534.4 L976.4,534.8 L978.1,539.3 L979.8,544.3 L981.5,541.8 L982.3,541.5 L983.2,541.7 L984.0,542.1 L985.0,541.3 L986.0,539.7 L987.0,538.8 L989.0,529.3 L991.0,526.8 L993.1,516.4 L994.2,520.3 L995.3,524.8 L997.3,520.1 L998.2,520.6 L999.1,519.6 L1000.0,519.3 L1001.4,517.1 L1002.3,518.3 L1003.3,518.6 L1004.2,519.0 L1005.2,517.9 L1006.1,518.3 L1007.1,518.1 L1008.6,513.9 L1010.1,514.5 L1011.3,521.7 L1013.1,525.8 L1014.9,535.4 L1016.1,531.2 L1017.9,518.1 L1019.0,518.3 L1020.0,519.7 L1021.0,521.8 L1022.0,522.9 L1023.2,522.4 L1024.4,522.3 L1025.6,523.2 L1026.8,523.5 L1028.0,524.0 L1029.8,522.3 L1031.5,518.3 L1033.3,519.3 L1034.2,518.0 L1035.2,518.1 L1036.1,516.7 L1038.1,519.3 L1039.1,519.9 L1040.1,522.3 L1041.1,523.1 L1042.3,523.2 L1043.5,524.3 L1045.2,523.5 L1046.3,522.5 L1047.4,523.1 L1048.8,525.5 L1049.8,526.1 L1050.8,528.1 L1051.8,528.8 L1052.8,529.2 L1053.8,527.2 L1054.8,527.6 L1055.8,527.5 L1056.9,527.4 L1057.8,525.5 L1058.6,524.1 L1059.5,521.7 L1060.7,521.5 L1061.9,522.3 L1063.1,522.0 L1064.3,521.7 L1065.3,521.1 L1066.4,521.5 L1067.5,520.2 L1068.5,520.2 L1069.5,521.2 L1070.4,520.5 L1071.4,521.1 L1072.6,520.4 L1073.8,521.0 L1075.0,520.5 L1076.8,515.1 L1078.3,514.5 L1080.0,519.3 L1081.2,528.8 L1082.2,528.5 L1083.3,528.2 L1084.5,527.2 L1085.7,527.4 L1086.7,528.0 L1087.7,527.5 L1088.7,528.6 L1089.7,528.5 L1090.7,527.8 L1091.7,527.0 L1092.8,527.3 L1094.0,526.7 L1095.0,526.5 L1096.0,525.7 L1097.0,525.5 L1098.0,525.6 L1099.0,525.9 L1100.0,526.4 L1101.8,525.8 L1103.0,527.8 L1104.2,528.6 L1105.2,528.7 L1106.1,530.8 L1107.1,531.0 L1108.1,529.7 L1109.2,529.5 L1110.2,529.1 L1111.3,529.0 L1112.3,530.2 L1113.3,530.1 L1114.3,530.6 L1115.5,531.2 L1116.7,532.1 L1117.8,532.2 L1119.0,531.0 L1120.5,525.8 L1121.4,525.2 L1122.3,525.3 L1123.2,525.2 L1124.4,520.5 L1125.6,519.3 L1126.8,512.1 L1128.6,503.8 L1129.8,491.9 L1131.5,460.2 L1133.1,450.4 L1135.1,452.0 L1136.4,448.8 L1138.0,412.7 L1139.3,396.4 L1141.0,407.8 L1142.6,411.9 L1144.6,402.9 L1145.4,380.0 L1146.2,360.0 L1148.0,341.8 L1148.9,275.7 L1149.8,251.1 L1151.1,251.6 L1152.5,287.3 L1153.9,290.0 L1155.7,258.8 L1157.0,275.7 L1158.2,308.8 L1160.0,282.9 L1161.2,281.2 L1162.3,279.3 L1163.4,277.9 L1164.6,275.7 L1166.4,257.9 L1167.7,272.1 L1169.5,300.7 L1171.2,297.1 L1172.7,307.0 L1174.8,294.5 L1176.6,308.8 L1177.5,310.0 L1178.4,310.8 L1179.3,311.4 L1181.6,323.9 L1182.9,315.0 L1184.3,280.2 L1185.1,277.9 L1186.0,275.7 L1186.8,273.9 L1187.9,276.5 L1189.1,280.2 L1190.9,290.0 L1192.1,292.3 L1193.2,293.6 L1195.0,268.6 L1196.0,267.1 L1197.1,265.0 L1197.9,250.0 L1199.3,179.8 L1200.5,164.9 L1201.9,164.9 L1203.1,177.5 L1204.2,178.6 L1205.3,179.0 L1206.4,179.2 L1207.5,180.5 L1208.7,181.9 L1209.8,183.5 L1211.2,187.2 L1212.4,210.3 L1213.9,187.2 L1214.8,187.4 L1215.6,186.9 L1216.5,186.5 L1217.9,193.2 L1219.0,209.5 L1219.6,240.0 L1220.0,273.0 L1221.2,252.5 L1222.5,273.9 L1223.9,282.0 L1224.8,280.2 L1225.7,279.5 L1226.6,278.4 L1227.9,273.9 L1228.9,280.2 L1230.0,277.2 L1231.1,273.0 L1232.4,250.0 L1233.3,231.1 L1234.8,230.4 L1236.2,239.3 L1237.5,255.2 L1239.2,240.8 L1240.4,250.7 L1241.6,253.9 L1242.7,257.9 L1244.5,275.7 L1245.7,300.7 L1246.8,298.9 L1248.6,321.2 L1249.8,302.5 L1251.1,266.8 L1252.1,249.8 L1253.4,282.0 L1255.2,258.8 L1256.4,259.6 L1257.9,290.0 L1259.6,311.4 L1261.1,317.7 L1262.9,304.3 L1265.9,279.3 L1268.6,296.2 L1271.2,272.1 L1273.0,281.1 L1273.9,277.3 L1274.8,274.2 L1275.7,271.2 L1276.8,274.7 L1277.9,277.5 L1279.6,293.6 L1281.4,311.4 L1282.2,313.7 L1283.1,314.4 L1283.9,316.8 L1284.9,319.5 L1285.8,322.9 L1286.8,326.6 L1287.8,321.4 L1288.9,316.8 L1291.6,352.5 L1293.4,348.9 L1295.7,331.1 L1298.4,312.3 L1299.5,313.2 L1300.5,314.1 L1301.7,318.0 L1302.9,323.0 L1303.9,323.0 L1304.9,323.1 L1305.9,323.9 L1307.1,321.6 L1308.2,317.7 L1310.0,303.4 L1311.0,305.6 L1312.1,307.0 L1315.4,294.5 L1317.1,304.3 L1318.1,304.6 L1319.2,306.8 L1320.2,307.0 L1321.1,308.1 L1322.0,310.3 L1322.9,312.3 L1324.6,318.6 L1326.8,298.9 L1329.1,278.4 L1330.4,282.9 L1332.7,258.8 L1334.1,258.8 L1335.7,274.8 L1337.5,285.5 L1338.7,285.8 L1339.8,284.6 L1340.9,280.6 L1342.1,275.7 L1344.3,286.4 L1345.3,289.9 L1346.4,292.7 L1348.2,290.0 L1349.3,293.9 L1350.5,298.0 L1352.3,312.3 L1353.4,310.9 L1354.6,310.5 L1355.4,307.5 L1356.3,303.3 L1357.1,300.7 L1359.5,314.1 L1362.1,298.9 L1363.0,296.4 L1363.9,294.6 L1364.8,292.7 L1367.1,316.8 L1368.9,307.9 L1370.7,302.5 L1372.5,312.3 L1373.3,311.3 L1374.2,311.5 L1375.0,311.4 L1376.4,316.8 L1377.3,332.9 L1379.1,316.8 L1380.9,307.9 L1382.7,317.7 L1384.5,308.8 L1385.4,308.3 L1386.2,307.3 L1387.1,306.1 L1388.2,302.5 L1389.3,298.9 L1390.4,301.8 L1391.6,304.3 L1392.8,300.6 L1393.9,297.1 L1395.0,293.9 L1396.1,291.8 L1397.5,275.7 L1398.8,250.7 L1399.5,238.0 L1400.4,228.9 L1402.1,210.2 L1403.4,212.9 L1404.8,198.6 L1406.1,155.7 L1407.0,136.1 L1408.2,141.4 L1409.6,129.8 L1411.1,129.8 L1412.3,141.4 L1413.6,171.8 L1415.0,187.0 L1416.8,174.5 L1418.2,171.8 L1419.5,183.4 L1421.2,187.0 L1423.0,205.7 L1424.8,217.3 L1426.2,197.7 L1427.9,203.9 L1429.3,191.4 L1430.7,160.2 L1432.0,161.1 L1433.2,173.6 L1434.6,172.7 L1436.1,167.3 L1437.3,175.4 L1438.6,190.5 L1439.8,188.0 L1440.9,185.2 L1442.7,200.4 L1444.5,212.9 L1445.7,211.1 L1447.1,197.7 L1448.6,195.9 L1450.4,207.5 L1451.6,198.6 L1453.4,203.0 L1454.6,220.0 L1457.0,231.6 L1459.3,220.0 L1460.3,221.6 L1461.4,223.6 L1462.9,227.1 L1464.6,212.9 L1465.7,208.8 L1466.8,203.9 L1468.6,200.4 L1470.4,186.1 L1471.8,185.2 L1473.6,198.6 L1475.4,196.8 L1476.6,188.8 L1478.4,198.6 L1480.2,203.9 L1482.0,218.2 L1483.8,217.3 L1485.5,230.7 L1487.3,227.1 L1489.6,216.4 L1491.4,207.5 L1493.2,196.8 L1495.0,199.5 L1496.8,201.2 L1498.6,207.5 L1499.8,220.0 L1501.6,232.5 L1502.9,276.2 L1504.6,256.6 L1506.4,271.8 L1509.3,292.3 L1511.1,284.3 L1513.2,272.7 L1515.0,280.7 L1516.8,279.8 L1518.6,255.7 L1519.7,251.9 L1520.7,246.8 L1521.8,248.9 L1523.0,251.2 L1524.8,267.3 L1525.7,266.5 L1526.6,265.9 L1527.5,264.6 L1528.9,280.7 L1530.2,297.7 L1531.1,298.2 L1532.0,298.5 L1532.9,299.5 L1534.6,295.0 L1536.8,267.3 L1539.1,278.0 L1540.9,278.9 L1541.8,295.0 L1543.6,302.1 L1544.5,305.7 L1545.4,309.2 L1546.2,311.8 L1548.6,332.1 L1550.4,342.0 L1552.1,319.6 L1553.9,303.3 L1555.0,305.7 L1556.1,307.3 L1557.0,307.5 L1557.9,307.5 L1558.8,306.8 L1560.5,327.4 L1562.9,309.1 L1564.6,321.6 L1566.4,328.7 L1567.5,325.9 L1568.6,322.5 L1570.4,322.5 L1572.1,332.3 L1573.9,329.6 L1574.8,333.1 L1575.7,336.0 L1576.6,339.3 L1578.4,347.3 L1580.2,352.7 L1582.0,343.8 L1583.8,342.9 L1584.9,346.6 L1586.1,350.9 L1586.9,351.4 L1587.8,350.9 L1588.6,351.8 L1590.0,353.6 L1591.0,351.7 L1592.1,350.0 L1593.3,351.4 L1594.5,351.8 L1596.2,353.6 L1598.0,335.7 L1598.9,314.6 L1600.7,289.6 L1602.1,288.8 L1603.4,315.3 L1604.6,317.9 L1605.7,319.8 L1606.8,322.7 L1607.9,325.2 L1610.0,314.0 L1611.8,323.4 L1612.6,323.9 L1613.5,325.1 L1614.3,326.1 L1615.9,335.7 L1617.1,340.1 L1618.2,344.6 L1619.3,343.9 L1620.4,342.9 L1621.5,346.3 L1622.5,350.0 L1624.3,346.4 L1626.1,342.9 L1627.9,357.1 L1629.3,371.4 L1631.1,380.4 L1632.9,385.7 L1634.6,392.0 L1636.4,403.6 L1638.2,412.5 L1640.0,407.1 L1641.0,411.9 L1642.1,416.1 L1643.3,412.3 L1644.5,407.1 L1646.2,396.4 L1648.0,407.1 L1649.8,414.3 L1651.6,407.1 L1652.5,405.4 L1653.4,405.0 L1654.3,403.6 L1656.1,416.0 L1657.2,412.2 L1658.3,407.6 L1660.0,414.3 L1661.9,418.5 L1663.0,416.2 L1664.1,414.3 L1665.2,412.1 L1666.4,410.0 L1667.2,413.2 L1668.1,414.1 L1668.9,417.2 L1670.0,416.0 L1671.0,414.2 L1672.1,413.5 L1673.2,413.5 L1674.4,412.6 L1675.3,412.0 L1676.2,410.0 L1677.1,408.7 L1680.2,396.7 L1681.1,398.9 L1682.0,402.4 L1682.9,405.1 L1683.9,407.2 L1684.9,409.5 L1685.9,411.2 L1686.7,411.1 L1687.6,411.2 L1688.4,410.9 L1689.4,414.0 L1690.4,416.1 L1691.4,418.6 L1692.4,419.2 L1693.3,420.8 L1694.2,420.3 L1695.2,421.5 L1696.3,420.1 L1697.4,418.2 L1698.5,420.6 L1699.7,423.8 L1700.8,426.0 L1701.9,423.2 L1703.0,422.3 L1704.1,419.3 L1705.2,419.4 L1706.4,419.3 L1707.5,420.4 L1708.4,419.3 L1709.3,418.8 L1710.2,418.2 L1711.2,417.0 L1712.1,417.3 L1713.1,417.0" fill="none" stroke="#3e2eb6" stroke-width="2.5" stroke-linejoin="round" stroke-linecap="round"/><g clip-path="url(#ca)" opacity="0.88"><g clip-path="url(#up)"><rect x="100" y="100" width="1640" height="500" fill="#67975b"/><path d="M115.6,90V600M120.0,90V600M124.4,90V600M128.8,90V600M133.2,90V600M137.6,90V600M142.0,90V600M146.4,90V600M150.8,90V600M155.2,90V600M159.6,90V600M164.0,90V600M168.4,90V600M172.8,90V600M177.2,90V600M181.6,90V600M186.0,90V600M190.4,90V600M194.8,90V600M199.2,90V600M203.6,90V600M208.0,90V600M212.4,90V600M216.8,90V600M221.2,90V600M225.6,90V600M230.0,90V600M234.4,90V600M238.8,90V600M243.2,90V600M247.6,90V600M252.0,90V600M256.4,90V600M260.8,90V600M265.2,90V600M269.6,90V600M274.0,90V600M278.4,90V600M282.8,90V600M287.2,90V600M291.6,90V600M296.0,90V600M300.4,90V600M304.8,90V600M309.2,90V600M313.6,90V600M318.0,90V600M322.4,90V600M326.8,90V600M331.2,90V600M335.6,90V600M340.0,90V600M344.4,90V600M348.8,90V600M353.2,90V600M357.6,90V600M362.0,90V600M366.4,90V600M370.8,90V600M375.2,90V600M379.6,90V600M384.0,90V600M388.4,90V600M392.8,90V600M397.2,90V600M401.6,90V600M406.0,90V600M410.4,90V600M414.8,90V600M419.2,90V600M423.6,90V600M428.0,90V600M432.4,90V600M436.8,90V600M441.2,90V600M445.6,90V600M450.0,90V600M454.4,90V600M458.8,90V600M463.2,90V600M467.6,90V600M472.0,90V600M476.4,90V600M480.8,90V600M485.2,90V600M489.6,90V600M494.0,90V600M498.4,90V600M502.8,90V600M507.2,90V600M511.6,90V600M516.0,90V600M520.4,90V600M524.8,90V600M529.2,90V600M533.6,90V600M538.0,90V600M542.4,90V600M546.8,90V600M551.2,90V600M555.6,90V600M560.0,90V600M564.4,90V600M568.8,90V600M573.2,90V600M577.6,90V600M582.0,90V600M586.4,90V600M590.8,90V600M595.2,90V600M978.0,90V600M982.4,90V600M986.8,90V600M991.2,90V600M1000.0,90V600M1004.4,90V600M1013.2,90V600M1030.8,90V600M1035.2,90V600M1039.6,90V600M1044.0,90V600M1048.4,90V600M1052.8,90V600M1057.2,90V600M1061.6,90V600M1066.0,90V600M1070.4,90V600M1074.8,90V600M1079.2,90V600M1083.6,90V600M1088.0,90V600M1092.4,90V600M1096.8,90V600M1101.2,90V600M1105.6,90V600M1110.0,90V600M1114.4,90V600M1118.8,90V600M1123.2,90V600M1127.6,90V600M1132.0,90V600M1136.4,90V600M1140.8,90V600M1145.2,90V600M1312.4,90V600M1316.8,90V600M1325.6,90V600M1330.0,90V600M1334.4,90V600M1338.8,90V600M1343.2,90V600M1347.6,90V600M1352.0,90V600M1356.4,90V600M1360.8,90V600M1365.2,90V600M1369.6,90V600M1374.0,90V600M1378.4,90V600M1382.8,90V600M1387.2,90V600M1391.6,90V600M1396.0,90V600M1400.4,90V600M1523.6,90V600M1528.0,90V600M1532.4,90V600M1660.0,90V600M1664.4,90V600M1668.8,90V600M1673.2,90V600M1677.6,90V600M1682.0,90V600M1686.4,90V600M1690.8,90V600M1695.2,90V600M1699.6,90V600M1704.0,90V600M1708.4,90V600M1712.8,90V600" stroke="#78ad69" stroke-width="1.1" fill="none"/><path d="M116.7,391.75v-11.0M118.9,391.75v-9.7M121.1,391.75v-7.3M123.3,391.75v-20.9M127.7,391.75v-10.4M132.1,391.75v-18.4M134.3,391.75v-11.9M138.7,391.75v-9.7M143.1,391.75v-11.9M145.3,391.75v-13.4M147.5,391.75v-18.8M149.7,391.75v-19.2M151.9,391.75v-10.1M154.1,391.75v-11.1M156.3,391.75v-3.1M158.5,391.75v-8.3M160.7,391.75v-8.7M162.9,391.75v-11.1M165.1,391.75v-15.5M176.1,391.75v-15.0M180.5,391.75v-15.5M182.7,391.75v-4.9M187.1,391.75v-9.6M200.3,391.75v-6.8M202.5,391.75v-13.1M206.9,391.75v-13.5M209.1,391.75v-7.4M211.3,391.75v-12.4M213.5,391.75v-11.9M215.7,391.75v-12.3M222.3,391.75v-11.9M226.7,391.75v-10.1M228.9,391.75v-21.3M231.1,391.75v-15.1M233.3,391.75v-3.5M239.9,391.75v-12.7M242.1,391.75v-20.1M244.3,391.75v-16.6M248.7,391.75v-10.0M253.1,391.75v-7.0M255.3,391.75v-11.0M257.5,391.75v-18.7M259.7,391.75v-18.7M261.9,391.75v-12.6M268.5,391.75v-9.3M270.7,391.75v-8.7M275.1,391.75v-3.8M277.3,391.75v-19.8M279.5,391.75v-3.9M281.7,391.75v-3.1M283.9,391.75v-20.5M288.3,391.75v-20.3M290.5,391.75v-14.7M292.7,391.75v-16.2M294.9,391.75v-15.9M297.1,391.75v-15.7M299.3,391.75v-17.5M301.5,391.75v-6.4M305.9,391.75v-15.5M310.3,391.75v-13.7M312.5,391.75v-8.7M314.7,391.75v-9.1M319.1,391.75v-4.0M321.3,391.75v-3.7M323.5,391.75v-18.4M325.7,391.75v-20.5M327.9,391.75v-3.3M332.3,391.75v-21.6M334.5,391.75v-10.8M336.7,391.75v-15.2M338.9,391.75v-5.9M341.1,391.75v-3.1M347.7,391.75v-5.5M349.9,391.75v-16.7M352.1,391.75v-16.9M358.7,391.75v-16.9M360.9,391.75v-14.9M367.5,391.75v-16.6M369.7,391.75v-3.3M371.9,391.75v-18.5M374.1,391.75v-8.9M378.5,391.75v-12.2M380.7,391.75v-10.0M382.9,391.75v-11.3M387.3,391.75v-9.9M389.5,391.75v-15.0M396.1,391.75v-13.8M402.7,391.75v-9.3M407.1,391.75v-14.4M411.5,391.75v-10.2M415.9,391.75v-18.3M418.1,391.75v-3.0M420.3,391.75v-11.0M429.1,391.75v-13.9M435.7,391.75v-9.6M442.3,391.75v-20.7M444.5,391.75v-14.5M446.7,391.75v-11.8M451.1,391.75v-18.0M455.5,391.75v-17.7M459.9,391.75v-19.8M462.1,391.75v-12.1M464.3,391.75v-6.6M466.5,391.75v-6.4M468.7,391.75v-9.9M470.9,391.75v-10.6M473.1,391.75v-5.8M475.3,391.75v-21.9M477.5,391.75v-5.0M479.7,391.75v-18.0M481.9,391.75v-14.3M484.1,391.75v-12.9M488.5,391.75v-19.5M490.7,391.75v-13.8M492.9,391.75v-17.8M499.5,391.75v-7.8M501.7,391.75v-6.8M503.9,391.75v-4.6M510.5,391.75v-20.3M512.7,391.75v-14.4M517.1,391.75v-7.9M521.5,391.75v-15.7M523.7,391.75v-11.5M528.1,391.75v-7.2M530.3,391.75v-7.9M534.7,391.75v-18.9M536.9,391.75v-17.9M541.3,391.75v-4.1M545.7,391.75v-15.9M550.1,391.75v-5.0M552.3,391.75v-7.9M554.5,391.75v-12.1M556.7,391.75v-7.5M558.9,391.75v-15.9M561.1,391.75v-16.6M569.9,391.75v-5.7M574.3,391.75v-19.0M576.5,391.75v-11.6M578.7,391.75v-18.6M580.9,391.75v-14.9M583.1,391.75v-7.2M585.3,391.75v-16.6M589.7,391.75v-8.1M591.9,391.75v-6.0M594.1,391.75v-19.0M596.3,391.75v-6.2M976.9,391.75v-10.5M979.1,391.75v-18.7M985.7,391.75v-16.1M987.9,391.75v-18.8M990.1,391.75v-11.6M992.3,391.75v-16.3M998.9,391.75v-18.3M1003.3,391.75v-15.1M1005.5,391.75v-7.7M1007.7,391.75v-9.8M1012.1,391.75v-15.7M1014.3,391.75v-7.6M1029.7,391.75v-9.8M1031.9,391.75v-4.1M1034.1,391.75v-6.7M1036.3,391.75v-11.5M1038.5,391.75v-9.2M1040.7,391.75v-9.9M1042.9,391.75v-4.4M1047.3,391.75v-4.6M1049.5,391.75v-21.6M1051.7,391.75v-5.1M1053.9,391.75v-11.3M1056.1,391.75v-13.3M1058.3,391.75v-20.5M1062.7,391.75v-15.4M1064.9,391.75v-7.7M1069.3,391.75v-19.0M1071.5,391.75v-6.5M1078.1,391.75v-18.8M1080.3,391.75v-9.2M1082.5,391.75v-18.7M1084.7,391.75v-10.0M1089.1,391.75v-7.5M1091.3,391.75v-13.8M1093.5,391.75v-18.6M1097.9,391.75v-12.4M1100.1,391.75v-6.0M1102.3,391.75v-14.0M1104.5,391.75v-16.1M1108.9,391.75v-4.7M1111.1,391.75v-11.4M1113.3,391.75v-16.7M1117.7,391.75v-18.0M1119.9,391.75v-8.4M1122.1,391.75v-12.8M1124.3,391.75v-9.4M1128.7,391.75v-20.2M1130.9,391.75v-8.6M1133.1,391.75v-13.7M1135.3,391.75v-6.7M1137.5,391.75v-9.2M1144.1,391.75v-21.3M1146.3,391.75v-18.4M1148.5,391.75v-15.9M1313.5,391.75v-19.6M1315.7,391.75v-5.6M1324.5,391.75v-15.3M1326.7,391.75v-15.9M1328.9,391.75v-4.1M1331.1,391.75v-3.9M1333.3,391.75v-9.4M1335.5,391.75v-14.4M1337.7,391.75v-11.8M1339.9,391.75v-20.6M1342.1,391.75v-21.8M1344.3,391.75v-14.7M1346.5,391.75v-9.3M1348.7,391.75v-6.0M1350.9,391.75v-17.6M1353.1,391.75v-18.5M1355.3,391.75v-13.2M1357.5,391.75v-13.5M1359.7,391.75v-14.4M1361.9,391.75v-17.1M1366.3,391.75v-17.7M1370.7,391.75v-11.6M1375.1,391.75v-5.5M1377.3,391.75v-12.0M1379.5,391.75v-17.7M1381.7,391.75v-21.8M1383.9,391.75v-17.4M1386.1,391.75v-3.5M1388.3,391.75v-4.1M1390.5,391.75v-13.5M1392.7,391.75v-20.9M1394.9,391.75v-5.8M1399.3,391.75v-6.1M1401.5,391.75v-17.8M1524.7,391.75v-13.0M1529.1,391.75v-18.6M1535.7,391.75v-3.8M1544.5,391.75v-11.6M1661.1,391.75v-15.5M1663.3,391.75v-20.2M1665.5,391.75v-5.9M1667.7,391.75v-16.2M1669.9,391.75v-18.9M1672.1,391.75v-7.4M1674.3,391.75v-9.1M1683.1,391.75v-21.6M1685.3,391.75v-3.6M1687.5,391.75v-15.2M1689.7,391.75v-13.4M1691.9,391.75v-11.8M1694.1,391.75v-11.2M1702.9,391.75v-13.0M1709.5,391.75v-4.8M1711.7,391.75v-19.4M1713.9,391.75v-13.3" stroke="#7db66c" stroke-width="1.1" fill="none"/><path d="M122.2,90V600M135.4,90V600M148.6,90V600M161.8,90V600M175.0,90V600M188.2,90V600M201.4,90V600M214.6,90V600M227.8,90V600M241.0,90V600M254.2,90V600M267.4,90V600M280.6,90V600M293.8,90V600M307.0,90V600M320.2,90V600M333.4,90V600M346.6,90V600M359.8,90V600M373.0,90V600M386.2,90V600M399.4,90V600M412.6,90V600M425.8,90V600M439.0,90V600M452.2,90V600M465.4,90V600M478.6,90V600M491.8,90V600M505.0,90V600M518.2,90V600M531.4,90V600M544.6,90V600M557.8,90V600M571.0,90V600M584.2,90V600M980.2,90V600M993.4,90V600M1006.6,90V600M1033.0,90V600M1046.2,90V600M1059.4,90V600M1072.6,90V600M1085.8,90V600M1099.0,90V600M1112.2,90V600M1125.4,90V600M1138.6,90V600M1310.2,90V600M1323.4,90V600M1336.6,90V600M1349.8,90V600M1363.0,90V600M1376.2,90V600M1389.4,90V600M1534.6,90V600M1666.6,90V600M1679.8,90V600M1693.0,90V600M1706.2,90V600" stroke="#90d27c" stroke-width="1.1" fill="none"/></g><g clip-path="url(#dn)"><rect x="100" y="100" width="1640" height="500" fill="#ae6661"/><path d="M598.5,391.75v8.2M600.7,391.75v7.5M602.9,391.75v4.8M605.1,391.75v3.8M609.5,391.75v3.3M611.7,391.75v4.7M613.9,391.75v4.6M616.1,391.75v4.7M618.3,391.75v3.3M620.5,391.75v4.2M622.7,391.75v4.5M624.9,391.75v4.4M627.1,391.75v2.2M629.3,391.75v6.6M631.5,391.75v3.0M633.7,391.75v13.6M635.9,391.75v14.4M638.1,391.75v3.6M640.3,391.75v13.9M644.7,391.75v7.7M646.9,391.75v9.6M649.1,391.75v4.8M653.5,391.75v12.8M655.7,391.75v4.5M660.1,391.75v10.4M662.3,391.75v15.8M664.5,391.75v3.9M666.7,391.75v4.7M668.9,391.75v3.5M671.1,391.75v9.7M673.3,391.75v14.3M675.5,391.75v5.4M677.7,391.75v7.7M679.9,391.75v11.8M682.1,391.75v11.2M684.3,391.75v13.4M686.5,391.75v8.3M688.7,391.75v8.0M690.9,391.75v7.5M693.1,391.75v15.4M701.9,391.75v8.2M704.1,391.75v10.5M706.3,391.75v3.8M708.5,391.75v16.2M715.1,391.75v12.1M719.5,391.75v9.0M723.9,391.75v4.6M728.3,391.75v9.1M730.5,391.75v4.8M732.7,391.75v7.0M734.9,391.75v10.6M737.1,391.75v13.8M739.3,391.75v12.2M741.5,391.75v8.7M743.7,391.75v9.7M745.9,391.75v9.0M748.1,391.75v12.0M750.3,391.75v18.9M752.5,391.75v5.0M754.7,391.75v4.8M756.9,391.75v14.4M761.3,391.75v8.4M763.5,391.75v12.7M767.9,391.75v13.2M770.1,391.75v16.0M774.5,391.75v17.4M776.7,391.75v21.1M778.9,391.75v17.6M781.1,391.75v11.4M783.3,391.75v17.5M785.5,391.75v11.1M789.9,391.75v7.9M792.1,391.75v14.3M794.3,391.75v18.3M800.9,391.75v12.9M803.1,391.75v13.1M805.3,391.75v9.0M807.5,391.75v7.9M809.7,391.75v15.2M811.9,391.75v4.6M814.1,391.75v10.0M818.5,391.75v9.1M827.3,391.75v5.0M829.5,391.75v13.5M833.9,391.75v6.6M836.1,391.75v5.3M838.3,391.75v4.5M840.5,391.75v3.5M842.7,391.75v5.8M844.9,391.75v5.8M847.1,391.75v10.2M849.3,391.75v6.6M851.5,391.75v14.8M853.7,391.75v4.5M855.9,391.75v4.2M862.5,391.75v7.2M864.7,391.75v5.5M869.1,391.75v8.3M871.3,391.75v8.4M875.7,391.75v5.9M886.7,391.75v6.1M888.9,391.75v13.5M891.1,391.75v6.0M893.3,391.75v10.8M895.5,391.75v8.9M899.9,391.75v6.3M902.1,391.75v13.2M904.3,391.75v5.7M906.5,391.75v12.3M910.9,391.75v5.3M913.1,391.75v10.9M915.3,391.75v6.5M917.5,391.75v10.5M919.7,391.75v4.7M921.9,391.75v10.6M924.1,391.75v5.7M926.3,391.75v9.8M928.5,391.75v7.9M932.9,391.75v11.9M935.1,391.75v8.7M937.3,391.75v6.1M939.5,391.75v10.3M941.7,391.75v10.9M943.9,391.75v5.3M946.1,391.75v5.6M948.3,391.75v8.7M950.5,391.75v7.7M954.9,391.75v2.4M957.1,391.75v4.5M959.3,391.75v4.6M961.5,391.75v8.7M963.7,391.75v4.2M965.9,391.75v5.2M968.1,391.75v4.5M970.3,391.75v2.6M972.5,391.75v3.7M974.7,391.75v1.6M996.7,391.75v0.6M1009.9,391.75v0.7M1016.5,391.75v0.1M1018.7,391.75v1.3M1020.9,391.75v2.2M1023.1,391.75v0.9M1025.3,391.75v1.3M1150.7,391.75v3.4M1152.9,391.75v1.7M1157.3,391.75v2.1M1159.5,391.75v22.7M1161.7,391.75v24.0M1163.9,391.75v13.5M1166.1,391.75v11.6M1168.3,391.75v10.9M1170.5,391.75v24.3M1172.7,391.75v29.1M1174.9,391.75v12.8M1177.1,391.75v27.3M1179.3,391.75v40.4M1181.5,391.75v56.7M1183.7,391.75v45.1M1185.9,391.75v44.6M1188.1,391.75v15.3M1190.3,391.75v25.4M1192.5,391.75v56.0M1194.7,391.75v46.5M1196.9,391.75v76.7M1201.3,391.75v71.4M1203.5,391.75v81.6M1205.7,391.75v95.5M1207.9,391.75v69.4M1212.3,391.75v42.5M1216.7,391.75v24.3M1218.9,391.75v70.5M1221.1,391.75v31.3M1223.3,391.75v83.0M1227.7,391.75v70.7M1234.3,391.75v75.2M1236.5,391.75v112.2M1238.7,391.75v58.3M1240.9,391.75v30.4M1243.1,391.75v82.1M1245.3,391.75v27.3M1247.5,391.75v28.8M1251.9,391.75v48.9M1254.1,391.75v73.8M1258.5,391.75v72.8M1262.9,391.75v55.0M1265.1,391.75v63.2M1269.5,391.75v61.9M1271.7,391.75v53.3M1273.9,391.75v37.4M1276.1,391.75v67.0M1278.3,391.75v26.4M1280.5,391.75v13.8M1282.7,391.75v34.2M1284.9,391.75v20.4M1287.1,391.75v46.4M1291.5,391.75v14.8M1295.9,391.75v11.6M1298.1,391.75v11.4M1300.3,391.75v7.5M1302.5,391.75v12.3M1304.7,391.75v8.9M1306.9,391.75v3.3M1322.3,391.75v0.2M1405.9,391.75v7.2M1408.1,391.75v5.6M1410.3,391.75v13.2M1412.5,391.75v23.8M1414.7,391.75v30.0M1416.9,391.75v14.9M1419.1,391.75v23.8M1421.3,391.75v37.0M1423.5,391.75v56.8M1430.1,391.75v64.8M1432.3,391.75v39.0M1436.7,391.75v57.4M1438.9,391.75v61.6M1441.1,391.75v16.3M1443.3,391.75v76.3M1445.5,391.75v24.3M1447.7,391.75v34.1M1449.9,391.75v65.5M1452.1,391.75v29.3M1454.3,391.75v18.0M1456.5,391.75v41.8M1460.9,391.75v37.9M1463.1,391.75v56.1M1465.3,391.75v21.9M1467.5,391.75v66.0M1471.9,391.75v29.1M1474.1,391.75v16.6M1476.3,391.75v43.8M1478.5,391.75v50.3M1480.7,391.75v41.8M1485.1,391.75v36.0M1489.5,391.75v41.3M1491.7,391.75v58.4M1493.9,391.75v42.1M1496.1,391.75v18.7M1498.3,391.75v41.0M1500.5,391.75v29.1M1502.7,391.75v42.7M1507.1,391.75v34.6M1509.3,391.75v16.0M1511.5,391.75v25.2M1513.7,391.75v12.5M1515.9,391.75v8.4M1518.1,391.75v28.2M1520.3,391.75v10.6M1522.5,391.75v0.8M1526.9,391.75v13.0M1540.1,391.75v3.4M1542.3,391.75v8.0M1546.7,391.75v1.9M1548.9,391.75v3.0M1551.1,391.75v1.5M1553.3,391.75v9.3M1555.5,391.75v8.7M1557.7,391.75v4.8M1559.9,391.75v18.4M1562.1,391.75v27.4M1564.3,391.75v11.9M1566.5,391.75v14.6M1568.7,391.75v23.9M1570.9,391.75v26.9M1573.1,391.75v22.0M1575.3,391.75v34.4M1577.5,391.75v27.6M1579.7,391.75v20.0M1581.9,391.75v37.4M1584.1,391.75v27.8M1586.3,391.75v36.1M1588.5,391.75v39.2M1590.7,391.75v25.9M1592.9,391.75v32.1M1595.1,391.75v42.2M1597.3,391.75v41.2M1599.5,391.75v46.4M1601.7,391.75v37.6M1603.9,391.75v32.1M1606.1,391.75v34.9M1610.5,391.75v21.6M1612.7,391.75v41.5M1614.9,391.75v15.6M1617.1,391.75v21.3M1619.3,391.75v14.8M1623.7,391.75v9.1M1625.9,391.75v14.3M1628.1,391.75v13.8M1630.3,391.75v31.9M1632.5,391.75v19.2M1634.7,391.75v21.9M1636.9,391.75v17.6M1641.3,391.75v27.2M1645.7,391.75v6.7M1647.9,391.75v16.2M1650.1,391.75v17.4M1652.3,391.75v13.2M1656.7,391.75v2.4" stroke="#c2736d" stroke-width="2.2" fill="none"/><path d="M599.6,90V600M604.0,90V600M608.4,90V600M612.8,90V600M617.2,90V600M621.6,90V600M626.0,90V600M630.4,90V600M634.8,90V600M639.2,90V600M643.6,90V600M648.0,90V600M652.4,90V600M656.8,90V600M661.2,90V600M665.6,90V600M670.0,90V600M674.4,90V600M678.8,90V600M683.2,90V600M687.6,90V600M692.0,90V600M696.4,90V600M700.8,90V600M705.2,90V600M709.6,90V600M714.0,90V600M718.4,90V600M722.8,90V600M727.2,90V600M731.6,90V600M736.0,90V600M740.4,90V600M744.8,90V600M749.2,90V600M753.6,90V600M758.0,90V600M762.4,90V600M766.8,90V600M771.2,90V600M775.6,90V600M780.0,90V600M784.4,90V600M788.8,90V600M793.2,90V600M797.6,90V600M802.0,90V600M806.4,90V600M810.8,90V600M815.2,90V600M819.6,90V600M824.0,90V600M828.4,90V600M832.8,90V600M837.2,90V600M841.6,90V600M846.0,90V600M850.4,90V600M854.8,90V600M859.2,90V600M863.6,90V600M868.0,90V600M872.4,90V600M876.8,90V600M881.2,90V600M885.6,90V600M890.0,90V600M894.4,90V600M898.8,90V600M903.2,90V600M907.6,90V600M912.0,90V600M916.4,90V600M920.8,90V600M925.2,90V600M929.6,90V600M934.0,90V600M938.4,90V600M942.8,90V600M947.2,90V600M951.6,90V600M956.0,90V600M960.4,90V600M964.8,90V600M969.2,90V600M973.6,90V600M995.6,90V600M1008.8,90V600M1017.6,90V600M1022.0,90V600M1026.4,90V600M1149.6,90V600M1154.0,90V600M1158.4,90V600M1162.8,90V600M1167.2,90V600M1171.6,90V600M1176.0,90V600M1180.4,90V600M1184.8,90V600M1189.2,90V600M1193.6,90V600M1198.0,90V600M1202.4,90V600M1206.8,90V600M1211.2,90V600M1215.6,90V600M1220.0,90V600M1224.4,90V600M1228.8,90V600M1233.2,90V600M1237.6,90V600M1242.0,90V600M1246.4,90V600M1250.8,90V600M1255.2,90V600M1259.6,90V600M1264.0,90V600M1268.4,90V600M1272.8,90V600M1277.2,90V600M1281.6,90V600M1286.0,90V600M1290.4,90V600M1294.8,90V600M1299.2,90V600M1303.6,90V600M1308.0,90V600M1321.2,90V600M1404.8,90V600M1409.2,90V600M1413.6,90V600M1418.0,90V600M1422.4,90V600M1426.8,90V600M1431.2,90V600M1435.6,90V600M1440.0,90V600M1444.4,90V600M1448.8,90V600M1453.2,90V600M1457.6,90V600M1462.0,90V600M1466.4,90V600M1470.8,90V600M1475.2,90V600M1479.6,90V600M1484.0,90V600M1488.4,90V600M1492.8,90V600M1497.2,90V600M1501.6,90V600M1506.0,90V600M1510.4,90V600M1514.8,90V600M1519.2,90V600M1536.8,90V600M1541.2,90V600M1545.6,90V600M1550.0,90V600M1554.4,90V600M1558.8,90V600M1563.2,90V600M1567.6,90V600M1572.0,90V600M1576.4,90V600M1580.8,90V600M1585.2,90V600M1589.6,90V600M1594.0,90V600M1598.4,90V600M1602.8,90V600M1607.2,90V600M1611.6,90V600M1616.0,90V600M1620.4,90V600M1624.8,90V600M1629.2,90V600M1633.6,90V600M1638.0,90V600M1642.4,90V600M1646.8,90V600M1651.2,90V600M1655.6,90V600" stroke="#c87871" stroke-width="1.1" fill="none" opacity="0.6"/><path d="M597.9,391.75v5.6M602.3,391.75v1.8M611.1,391.75v3.8M613.3,391.75v0.8M619.9,391.75v1.1M622.1,391.75v0.7M633.1,391.75v9.3M639.7,391.75v2.7M661.7,391.75v2.8M677.1,391.75v5.4M690.3,391.75v4.1M696.9,391.75v6.7M703.5,391.75v5.3M705.7,391.75v10.4M712.3,391.75v7.5M714.5,391.75v6.2M721.1,391.75v3.5M729.9,391.75v3.7M732.1,391.75v1.9M736.5,391.75v9.1M740.9,391.75v3.7M749.7,391.75v9.8M756.3,391.75v3.6M771.7,391.75v11.9M782.7,391.75v6.6M784.9,391.75v11.2M789.3,391.75v3.4M791.5,391.75v12.8M795.9,391.75v6.7M798.1,391.75v2.0M820.1,391.75v6.4M822.3,391.75v4.4M835.5,391.75v6.3M846.5,391.75v4.9M853.1,391.75v7.3M855.3,391.75v5.3M859.7,391.75v1.2M864.1,391.75v2.0M875.1,391.75v8.7M877.3,391.75v8.5M879.5,391.75v6.0M883.9,391.75v4.4M886.1,391.75v9.0M888.3,391.75v2.8M892.7,391.75v6.2M894.9,391.75v2.4M899.3,391.75v3.6M901.5,391.75v2.9M903.7,391.75v10.9M908.1,391.75v2.8M914.7,391.75v5.4M921.3,391.75v4.3M927.9,391.75v2.6M930.1,391.75v7.7M934.5,391.75v4.8M943.3,391.75v5.6M947.7,391.75v6.3M949.9,391.75v1.5M954.3,391.75v1.6M965.3,391.75v5.9M967.5,391.75v5.7M969.7,391.75v1.4M996.1,391.75v0.3M1009.3,391.75v0.7M1018.1,391.75v0.6M1026.9,391.75v0.2M1152.3,391.75v0.6M1154.5,391.75v0.0M1156.7,391.75v1.6M1172.1,391.75v16.0M1191.9,391.75v19.9M1200.7,391.75v45.3M1202.9,391.75v26.9M1207.3,391.75v38.8M1209.5,391.75v60.7M1211.7,391.75v33.5M1216.1,391.75v55.8M1218.3,391.75v50.3M1224.9,391.75v30.5M1229.3,391.75v20.5M1233.7,391.75v70.9M1238.1,391.75v71.8M1240.3,391.75v33.9M1249.1,391.75v19.2M1251.3,391.75v40.8M1273.3,391.75v18.5M1277.7,391.75v17.7M1284.3,391.75v14.3M1288.7,391.75v32.8M1290.9,391.75v21.6M1299.7,391.75v3.0M1301.9,391.75v4.8M1409.7,391.75v7.3M1411.9,391.75v10.5M1416.3,391.75v8.4M1418.5,391.75v30.3M1422.9,391.75v48.5M1425.1,391.75v37.9M1427.3,391.75v18.3M1429.5,391.75v32.7M1433.9,391.75v39.3M1440.5,391.75v43.8M1442.7,391.75v40.4M1455.9,391.75v6.3M1458.1,391.75v42.8M1460.3,391.75v20.1M1462.5,391.75v36.8M1466.9,391.75v13.7M1471.3,391.75v15.1M1484.5,391.75v21.2M1488.9,391.75v49.4M1495.5,391.75v27.9M1497.7,391.75v20.7M1502.1,391.75v21.7M1506.5,391.75v15.0M1526.3,391.75v2.6M1539.5,391.75v1.3M1552.7,391.75v4.2M1554.9,391.75v3.2M1557.1,391.75v8.9M1559.3,391.75v21.5M1565.9,391.75v9.3M1568.1,391.75v9.4M1576.9,391.75v4.2M1596.7,391.75v9.9M1598.9,391.75v6.6M1601.1,391.75v26.3M1603.3,391.75v25.2M1612.1,391.75v9.3M1623.1,391.75v9.2M1634.1,391.75v7.6M1642.9,391.75v8.9M1647.3,391.75v14.2M1651.7,391.75v3.4M1653.9,391.75v9.7M1656.1,391.75v4.3" stroke="#9a5a58" stroke-width="0.9" fill="none"/><path d="M597.4,90V600M610.6,90V600M623.8,90V600M637.0,90V600M650.2,90V600M663.4,90V600M676.6,90V600M689.8,90V600M703.0,90V600M716.2,90V600M729.4,90V600M742.6,90V600M755.8,90V600M769.0,90V600M782.2,90V600M795.4,90V600M808.6,90V600M821.8,90V600M835.0,90V600M848.2,90V600M861.4,90V600M874.6,90V600M887.8,90V600M901.0,90V600M914.2,90V600M927.4,90V600M940.6,90V600M953.8,90V600M967.0,90V600M1019.8,90V600M1151.8,90V600M1165.0,90V600M1178.2,90V600M1191.4,90V600M1204.6,90V600M1217.8,90V600M1231.0,90V600M1244.2,90V600M1257.4,90V600M1270.6,90V600M1283.8,90V600M1297.0,90V600M1402.6,90V600M1415.8,90V600M1429.0,90V600M1442.2,90V600M1455.4,90V600M1468.6,90V600M1481.8,90V600M1495.0,90V600M1508.2,90V600M1521.4,90V600M1547.8,90V600M1561.0,90V600M1574.2,90V600M1587.4,90V600M1600.6,90V600M1613.8,90V600M1627.0,90V600M1640.2,90V600M1653.4,90V600" stroke="#ee8f84" stroke-width="1.1" fill="none"/></g></g><path d="M115.2,130.0 L115.8,210.0 L118.2,305.0 L119.1,326.8 L120.6,338.7 L122.1,353.6 L122.9,374.4 L125.1,377.4 L127.0,381.8 L128.5,374.4 L130.6,372.9 L131.8,380.4 L134.0,375.1 L135.0,375.3 L136.0,375.5 L137.0,376.6 L138.0,376.6 L139.0,375.4 L140.0,375.9 L141.4,378.6 L142.9,381.1 L143.9,380.6 L144.9,379.8 L145.9,380.4 L148.5,372.9 L151.1,375.1 L152.1,375.0 L153.1,374.1 L154.1,374.8 L155.1,375.3 L156.2,375.4 L157.2,376.8 L158.5,376.1 L159.8,376.7 L161.0,377.4 L162.3,376.8 L163.5,376.7 L164.7,377.5 L166.0,378.8 L167.2,379.9 L168.4,379.7 L169.6,380.0 L170.9,379.8 L172.1,381.0 L173.4,379.5 L174.6,380.5 L175.9,380.9 L177.1,379.7 L178.4,379.3 L179.7,379.7 L181.1,380.0 L182.6,381.7 L183.6,375.6 L184.9,375.2 L186.3,375.4 L187.3,377.0 L188.4,376.9 L189.4,378.5 L192.0,376.8 L193.4,376.9 L194.8,376.9 L196.3,376.3 L197.7,376.6 L199.1,376.4 L200.3,375.9 L201.6,376.1 L202.8,376.6 L204.1,377.7 L205.3,377.6 L206.5,377.5 L207.7,377.3 L209.0,377.9 L210.2,377.7 L211.4,377.8 L212.4,377.6 L213.5,378.6 L214.5,378.2 L215.5,380.3 L216.6,381.1 L217.6,383.3 L220.1,378.5 L221.1,377.8 L222.2,376.9 L223.2,376.1 L224.6,376.7 L226.0,376.4 L227.4,375.5 L228.8,375.8 L230.1,377.0 L231.4,375.8 L232.6,376.6 L233.9,377.1 L235.3,377.0 L236.8,375.3 L238.2,375.4 L239.6,374.8 L241.6,375.6 L243.7,373.0 L246.2,375.1 L247.5,375.8 L248.8,378.2 L250.8,380.7 L252.4,373.5 L254.4,375.1 L255.4,372.7 L257.0,375.6 L259.5,373.8 L260.5,374.5 L261.6,375.1 L262.6,375.1 L263.9,374.8 L265.1,374.9 L266.4,373.4 L267.7,373.3 L268.9,373.4 L270.2,372.9 L271.4,372.7 L272.7,372.2 L273.9,372.0 L275.3,372.9 L276.6,373.5 L278.0,373.0 L279.2,372.7 L280.4,372.8 L281.7,371.4 L282.9,372.3 L284.1,371.7 L286.2,376.8 L287.2,374.6 L288.2,372.8 L289.2,369.5 L291.3,368.6 L292.3,370.0 L293.3,369.8 L294.3,371.0 L295.7,372.5 L297.0,374.7 L298.4,376.1 L299.6,376.5 L300.8,378.6 L301.9,379.3 L303.1,381.2 L304.5,380.9 L305.9,381.2 L307.3,382.9 L308.7,382.8 L309.9,382.8 L311.1,383.7 L312.3,384.8 L313.0,380.7 L313.8,385.3 L315.2,384.8 L316.5,385.3 L317.9,384.3 L319.2,384.8 L320.5,386.9 L323.0,384.3 L324.4,384.2 L325.7,384.4 L327.1,384.3 L327.6,319.3 L329.0,322.6 L330.4,324.5 L331.5,324.5 L332.6,324.1 L333.8,322.5 L334.9,322.3 L336.4,323.4 L337.8,324.5 L339.3,326.0 L340.6,326.9 L341.8,327.3 L343.1,326.1 L344.3,326.4 L345.6,326.8 L346.8,327.5 L349.0,322.3 L350.2,322.6 L351.5,323.7 L352.7,324.5 L354.0,327.7 L355.4,330.5 L356.5,328.6 L357.6,326.6 L358.7,326.0 L360.2,325.4 L361.7,324.9 L363.1,324.8 L364.6,325.1 L366.1,323.8 L367.1,324.9 L368.1,325.3 L369.1,326.0 L370.6,326.1 L372.1,326.2 L373.5,325.0 L375.0,326.4 L376.5,325.6 L377.5,326.7 L378.5,327.5 L379.5,327.5 L380.9,327.9 L382.2,327.0 L383.6,326.8 L385.0,326.1 L386.3,326.9 L387.7,326.5 L388.8,327.9 L390.0,330.1 L391.1,333.0 L392.3,331.5 L393.5,330.4 L394.7,329.7 L395.9,329.0 L403.3,318.6 L404.5,317.6 L405.7,317.3 L406.9,317.4 L408.1,317.1 L409.3,317.6 L410.8,316.4 L412.3,314.7 L413.8,314.6 L415.2,315.4 L416.7,315.0 L418.2,314.9 L419.3,313.2 L420.4,312.3 L421.5,311.6 L422.7,312.0 L423.9,312.6 L425.2,312.8 L426.4,314.1 L427.6,314.0 L428.9,313.5 L430.1,311.9 L430.7,375.0 L431.8,374.8 L433.0,374.6 L434.1,374.5 L435.4,372.6 L436.6,371.5 L437.9,371.0 L439.2,370.4 L440.6,370.0 L441.9,370.7 L443.3,369.2 L444.6,369.5 L446.1,369.6 L447.5,371.5 L448.6,372.1 L449.8,371.1 L450.9,370.1 L452.0,370.5 L453.2,371.2 L454.5,370.9 L455.7,372.4 L457.0,369.7 L458.4,366.8 L460.9,370.5 L462.2,371.7 L463.6,371.9 L464.9,372.0 L466.3,371.6 L467.6,372.4 L468.9,372.2 L470.1,371.9 L471.4,373.0 L472.6,372.7 L473.9,373.2 L475.1,372.7 L476.6,371.8 L478.0,371.1 L479.5,371.0 L480.8,371.4 L482.0,371.5 L483.2,371.0 L484.5,370.8 L485.8,370.6 L487.0,369.8 L488.4,371.0 L489.9,371.3 L491.2,367.7 L492.5,365.0 L493.6,365.8 L494.8,366.2 L495.9,367.2 L497.4,366.4 L498.9,366.5 L500.3,367.0 L501.8,367.0 L503.3,367.5 L504.3,367.6 L505.3,367.9 L506.3,366.8 L507.4,367.3 L508.6,368.7 L509.7,369.3 L510.8,369.0 L512.3,369.8 L513.8,368.8 L515.2,368.5 L516.7,369.0 L518.0,368.8 L519.2,369.1 L520.5,369.5 L521.7,370.6 L523.0,371.4 L524.2,371.0 L525.7,374.5 L527.4,368.3 L528.8,368.9 L530.3,368.1 L531.7,368.4 L533.2,368.6 L534.6,368.0 L536.1,368.1 L537.5,369.9 L539.0,371.2 L540.5,371.3 L541.8,371.8 L543.0,371.8 L544.2,371.4 L545.5,370.9 L546.8,372.0 L548.0,371.5 L549.4,370.2 L550.7,369.5 L552.4,371.3 L553.7,370.6 L554.9,369.6 L556.2,367.5 L557.7,367.7 L559.1,368.3 L561.1,374.2 L561.7,383.9 L563.1,383.7 L564.5,384.7 L566.0,384.3 L567.4,383.3 L568.8,383.9 L569.9,383.1 L571.0,382.9 L572.2,384.1 L573.3,383.2 L575.1,380.2 L576.3,383.2 L577.8,383.2 L579.2,382.1 L580.3,382.2 L581.5,384.1 L582.6,385.1 L583.7,384.9 L584.8,385.0 L586.0,384.3 L587.1,384.5 L588.2,384.3 L589.4,383.4 L590.7,382.9 L591.9,383.5 L594.1,386.1 L595.8,387.3 L596.2,404.0 L597.6,404.5 L598.9,403.7 L600.3,403.1 L601.6,403.6 L603.0,402.5 L604.3,402.5 L605.6,403.3 L606.9,403.3 L608.2,402.8 L609.5,401.2 L610.7,400.2 L612.0,399.5 L613.5,399.4 L615.0,399.5 L616.4,400.4 L617.9,400.0 L619.4,400.7 L620.7,400.5 L622.1,399.9 L623.4,401.2 L624.8,400.1 L626.1,400.3 L627.3,401.7 L628.6,403.4 L629.8,404.7 L632.0,416.6 L633.4,416.7 L634.7,415.3 L636.0,415.6 L637.4,414.3 L638.8,413.7 L640.2,413.9 L641.6,413.9 L643.1,413.1 L644.5,414.0 L646.0,413.6 L647.4,414.3 L648.6,413.7 L649.9,415.4 L651.1,414.6 L652.4,415.5 L653.6,416.2 L654.9,416.1 L656.4,415.9 L657.9,415.2 L659.3,415.2 L660.8,415.0 L662.3,414.6 L663.0,402.0 L664.5,414.6 L665.8,414.9 L667.1,413.5 L668.5,414.2 L669.8,413.9 L671.3,414.1 L672.8,414.9 L674.2,416.4 L675.7,416.6 L677.2,417.3 L678.7,416.6 L680.2,416.1 L681.6,415.6 L683.1,413.9 L684.6,413.2 L685.8,413.5 L687.0,413.5 L688.2,413.6 L689.4,414.1 L690.6,413.9 L692.1,414.0 L693.5,414.4 L695.0,414.6 L696.4,417.6 L697.7,420.6 L699.0,399.8 L701.0,414.6 L702.1,415.6 L703.2,415.4 L704.4,415.9 L705.5,415.4 L707.0,416.4 L708.5,415.3 L709.9,416.0 L711.4,416.1 L712.6,416.2 L713.8,415.2 L715.0,413.2 L716.2,412.5 L717.4,412.4 L718.9,412.5 L720.3,412.0 L721.8,412.5 L723.3,413.2 L724.6,412.6 L725.9,413.8 L727.2,414.2 L728.4,414.5 L729.7,413.4 L731.0,414.5 L732.3,414.3 L733.3,402.0 L734.5,418.8 L735.9,419.0 L737.3,417.9 L738.7,419.1 L740.0,419.1 L741.4,417.7 L742.8,418.8 L744.2,417.9 L745.7,417.8 L747.2,418.1 L748.6,419.1 L750.1,418.9 L751.6,418.4 L753.1,417.6 L754.6,417.8 L756.0,417.8 L757.5,417.2 L759.0,417.3 L760.2,416.9 L761.5,417.2 L762.8,418.0 L764.0,416.8 L765.2,417.9 L766.5,417.9 L768.0,405.0 L769.2,422.1 L770.4,422.1 L771.5,421.4 L772.7,422.0 L773.9,422.4 L775.2,422.8 L776.5,422.7 L777.8,422.0 L779.0,423.8 L780.3,423.6 L781.6,424.0 L782.9,423.3 L784.4,422.4 L785.9,422.6 L787.3,422.0 L788.8,423.2 L790.3,422.1 L791.8,422.4 L793.3,421.5 L794.8,421.7 L796.2,422.3 L797.7,421.3 L799.1,422.4 L800.5,421.9 L801.9,422.8 L803.2,402.0 L804.4,414.6 L805.7,413.8 L807.1,415.1 L808.4,414.3 L809.8,414.4 L811.1,413.9 L812.6,413.5 L814.1,413.7 L815.6,415.2 L817.0,415.0 L818.5,414.7 L820.0,416.6 L821.5,416.3 L823.0,416.4 L824.2,416.5 L825.5,414.8 L826.8,415.8 L828.0,414.0 L829.2,415.0 L830.5,413.9 L831.8,413.4 L833.1,412.9 L834.4,412.9 L835.7,412.4 L836.4,396.8 L837.9,411.7 L839.1,412.1 L840.3,410.6 L841.5,410.0 L842.7,410.3 L843.9,409.9 L845.4,410.9 L846.8,412.1 L848.3,414.3 L849.5,413.3 L850.7,412.7 L851.9,412.6 L853.1,412.4 L854.3,412.4 L855.7,412.2 L857.1,413.3 L858.6,412.6 L860.0,413.2 L861.0,413.7 L862.0,413.6 L863.0,414.7 L864.5,413.9 L866.0,412.7 L867.4,412.6 L868.9,412.5 L871.2,399.1 L872.6,412.5 L873.9,411.6 L875.3,412.9 L876.6,412.6 L878.0,411.9 L879.3,412.5 L880.5,412.8 L881.8,414.0 L883.0,412.9 L884.3,414.5 L885.5,414.2 L886.8,414.7 L888.3,414.9 L889.8,415.6 L891.2,415.0 L892.7,415.4 L894.2,415.5 L895.4,416.0 L896.6,416.6 L897.8,415.6 L899.0,416.7 L900.2,416.2 L901.5,418.2 L902.8,419.8 L904.1,421.1 L905.4,422.9 L906.9,406.5 L908.2,406.6 L909.5,406.4 L910.8,407.0 L912.1,408.0 L913.6,407.4 L915.1,408.8 L916.5,408.0 L918.0,408.0 L919.5,408.8 L920.7,408.5 L921.9,410.3 L923.1,410.8 L924.3,410.9 L925.5,411.0 L926.5,412.1 L927.5,413.5 L928.5,415.5 L930.0,416.2 L931.5,417.6 L932.9,418.2 L934.4,419.9 L935.8,419.7 L937.2,419.3 L938.6,419.6 L940.4,408.8 L941.9,409.4 L943.4,409.2 L944.8,408.1 L946.3,407.3 L947.8,408.4 L949.3,407.3 L950.8,406.7 L952.3,406.4 L953.7,405.5 L955.2,405.9 L956.7,405.8 L958.0,406.0 L959.2,406.3 L960.5,406.0 L961.7,406.8 L963.0,406.2 L964.2,407.3 L965.7,406.7 L967.2,406.3 L968.7,406.7 L970.1,405.9 L971.6,405.8 L973.1,406.5 L974.3,390.2 L975.4,388.8 L976.5,387.7 L977.6,387.2 L979.1,387.7 L980.5,387.9 L982.0,388.6 L983.5,388.4 L984.5,388.2 L985.5,387.8 L986.5,386.9 L987.6,388.1 L988.8,387.8 L989.9,388.2 L991.0,389.0 L992.2,391.3 L993.5,391.2 L994.7,393.2 L995.9,392.6 L997.2,391.5 L998.4,390.2 L999.5,389.2 L1000.6,390.4 L1001.8,390.3 L1002.9,389.4 L1004.4,389.9 L1005.8,390.4 L1007.3,390.2 L1008.8,393.9 L1010.0,387.2 L1011.1,388.7 L1012.2,388.4 L1013.3,389.9 L1014.8,391.3 L1016.2,392.6 L1017.7,393.9 L1018.7,395.0 L1019.7,395.4 L1020.7,395.4 L1021.8,395.6 L1023.0,394.8 L1024.1,395.0 L1025.2,393.9 L1026.2,393.0 L1027.2,391.8 L1028.2,390.2 L1029.6,387.9 L1030.9,386.3 L1032.1,384.8 L1033.4,384.5 L1034.9,384.1 L1036.3,384.8 L1037.8,385.4 L1039.0,382.8 L1040.3,382.3 L1041.5,379.8 L1043.8,385.7 L1045.3,381.5 L1046.8,381.3 L1048.2,381.1 L1049.7,380.5 L1051.0,381.9 L1052.2,383.1 L1053.5,383.9 L1055.0,384.0 L1056.5,383.3 L1057.9,384.9 L1059.4,384.5 L1060.6,384.7 L1061.8,384.1 L1063.0,384.0 L1064.2,384.0 L1065.4,383.5 L1066.9,383.2 L1068.3,384.9 L1069.8,384.5 L1071.3,385.4 L1072.4,384.5 L1073.5,384.8 L1074.7,385.5 L1075.8,385.0 L1078.0,387.9 L1079.2,384.9 L1080.5,383.4 L1081.7,380.5 L1082.5,380.0 L1083.8,381.2 L1085.0,380.6 L1086.2,380.7 L1087.5,381.2 L1088.8,381.0 L1090.0,381.1 L1091.2,381.0 L1092.5,380.2 L1095.0,376.9 L1096.2,376.6 L1097.5,376.1 L1098.8,375.2 L1100.0,375.3 L1101.2,376.3 L1102.5,377.8 L1103.8,376.7 L1105.0,377.0 L1106.2,376.0 L1107.7,375.8 L1109.1,376.5 L1110.6,376.5 L1111.6,373.7 L1112.7,371.8 L1113.8,370.6 L1116.2,371.9 L1118.8,364.4 L1120.6,362.2 L1123.1,363.1 L1124.4,361.7 L1125.6,361.3 L1126.9,360.0 L1129.4,363.1 L1131.2,370.0 L1135.0,378.1 L1136.2,379.9 L1137.5,381.3 L1138.8,382.5 L1139.8,384.0 L1140.9,386.3 L1141.9,388.1 L1142.9,387.6 L1144.0,387.2 L1145.0,386.9 L1146.9,385.6 L1148.8,396.2 L1151.0,403.8 L1152.5,387.5 L1155.0,395.0 L1156.9,398.1 L1158.2,440.0 L1159.6,441.4 L1161.1,444.9 L1162.5,446.2 L1163.8,445.5 L1165.0,446.7 L1166.2,446.5 L1167.5,445.5 L1171.2,453.8 L1177.5,463.8 L1181.2,476.2 L1183.8,457.5 L1185.0,457.5 L1186.2,459.1 L1187.5,460.0 L1189.0,480.0 L1191.5,510.3 L1192.8,511.9 L1194.2,513.3 L1195.5,513.5 L1196.6,513.7 L1197.7,513.7 L1198.8,514.4 L1204.5,534.0 L1206.0,534.4 L1207.4,536.6 L1208.8,536.2 L1210.3,537.6 L1211.5,538.7 L1212.8,538.9 L1214.0,540.5 L1215.2,541.4 L1216.6,545.0 L1218.0,547.0 L1219.3,520.0 L1220.9,539.0 L1222.9,553.6 L1224.2,554.4 L1225.6,557.1 L1227.0,558.0 L1228.3,559.4 L1230.4,556.0 L1231.5,578.0 L1236.5,567.5 L1237.7,567.8 L1239.0,567.1 L1240.2,565.9 L1241.4,566.0 L1243.0,570.0 L1245.5,569.2 L1247.0,571.3 L1249.5,568.4 L1252.0,542.2 L1254.0,560.2 L1256.9,550.4 L1257.9,550.5 L1258.9,549.2 L1259.9,548.7 L1261.8,502.0 L1263.2,500.1 L1264.5,499.0 L1265.9,498.8 L1267.2,499.6 L1268.4,500.4 L1269.7,501.3 L1272.5,492.3 L1278.2,483.3 L1283.8,475.0 L1285.0,491.2 L1286.2,472.5 L1287.5,470.9 L1288.8,469.4 L1290.0,468.5 L1291.2,467.5 L1293.0,437.5 L1295.0,420.0 L1296.2,419.0 L1297.5,419.4 L1298.8,417.2 L1300.0,417.5 L1305.0,407.5 L1308.6,394.3 L1310.7,390.0 L1312.0,390.6 L1313.2,391.0 L1314.5,389.8 L1315.7,390.7 L1317.9,371.4 L1320.0,368.6 L1321.4,396.4 L1323.1,370.0 L1324.4,367.2 L1325.7,362.9 L1327.1,361.5 L1328.6,360.0 L1330.0,357.1 L1331.4,355.7 L1332.9,330.0 L1334.3,328.7 L1335.7,327.9 L1337.2,327.9 L1338.6,328.3 L1340.0,325.0 L1341.4,340.7 L1342.6,339.5 L1343.8,336.6 L1345.0,334.3 L1347.1,332.1 L1348.3,332.1 L1349.5,332.5 L1350.7,332.9 L1352.4,353.6 L1353.6,342.1 L1354.8,340.8 L1355.9,339.4 L1357.1,339.3 L1358.5,338.1 L1360.0,338.3 L1361.5,341.2 L1362.9,342.9 L1364.3,340.7 L1365.7,339.3 L1367.2,341.5 L1368.6,342.1 L1369.8,340.2 L1370.9,338.9 L1372.1,337.9 L1373.3,338.1 L1374.5,337.6 L1375.7,338.3 L1377.1,339.8 L1378.6,342.7 L1380.0,343.6 L1381.4,343.7 L1382.9,342.9 L1384.3,341.7 L1385.5,342.6 L1386.7,343.7 L1387.9,343.6 L1390.0,338.6 L1391.7,354.3 L1392.6,359.3 L1394.0,358.6 L1395.7,371.4 L1397.9,384.3 L1399.3,384.4 L1400.7,382.9 L1402.3,392.3 L1404.5,413.5 L1405.6,411.4 L1406.8,409.4 L1407.9,406.8 L1411.2,429.1 L1415.7,444.8 L1417.9,476.0 L1420.1,509.5 L1421.2,510.9 L1422.4,514.4 L1423.5,516.2 L1425.3,489.4 L1426.7,491.6 L1428.0,493.9 L1429.1,492.9 L1430.2,491.2 L1431.3,489.4 L1432.7,489.3 L1434.1,489.1 L1435.5,491.0 L1436.9,490.5 L1438.2,490.2 L1439.6,491.2 L1440.9,491.7 L1442.5,512.9 L1444.0,491.7 L1445.3,492.2 L1446.6,493.0 L1447.9,494.6 L1449.2,495.0 L1450.3,497.0 L1451.4,496.8 L1452.5,498.4 L1454.8,493.9 L1456.5,510.6 L1458.8,485.0 L1461.0,479.4 L1461.9,498.4 L1463.2,496.8 L1464.6,494.3 L1465.9,492.8 L1467.3,491.8 L1468.7,490.4 L1470.1,488.8 L1471.5,488.3 L1472.9,487.4 L1474.3,487.2 L1475.7,488.2 L1477.1,487.2 L1478.2,486.1 L1479.3,484.4 L1480.4,483.8 L1481.5,486.4 L1482.7,488.4 L1483.8,489.4 L1484.9,488.6 L1486.0,487.3 L1487.1,487.2 L1489.4,512.9 L1491.6,511.8 L1493.2,467.1 L1494.7,464.3 L1496.1,462.6 L1498.3,447.0 L1500.5,451.5 L1502.8,457.0 L1505.0,444.8 L1507.9,434.7 L1510.6,450.3 L1512.8,428.0 L1514.2,423.9 L1515.5,421.3 L1516.8,436.9 L1519.5,413.5 L1521.8,391.2 L1524.0,383.3 L1525.8,413.5 L1527.3,390.0 L1528.8,387.5 L1530.2,385.6 L1531.6,387.7 L1532.9,391.2 L1535.2,390.0 L1537.4,407.9 L1538.5,406.7 L1539.6,406.0 L1540.7,405.7 L1543.0,403.4 L1543.6,382.2 L1544.9,391.4 L1546.7,399.2 L1547.8,399.0 L1548.9,399.2 L1550.0,398.1 L1552.3,413.7 L1553.8,415.6 L1555.2,416.5 L1556.7,418.2 L1559.0,450.5 L1560.5,447.6 L1561.9,445.0 L1563.4,419.3 L1565.7,434.9 L1567.2,435.7 L1568.6,436.1 L1570.1,437.1 L1571.2,438.2 L1572.3,439.1 L1573.5,440.9 L1574.6,442.7 L1576.0,445.2 L1577.4,445.4 L1578.8,447.7 L1580.2,449.4 L1581.3,449.9 L1582.5,450.6 L1583.6,449.7 L1584.7,450.5 L1585.8,451.2 L1586.9,452.3 L1588.0,453.9 L1589.3,452.2 L1590.5,450.8 L1591.8,449.4 L1594.7,479.6 L1596.9,456.1 L1599.2,476.2 L1603.6,467.3 L1604.7,466.3 L1605.9,464.2 L1607.0,461.7 L1611.5,451.7 L1612.6,449.7 L1613.7,445.6 L1614.8,443.8 L1615.9,441.1 L1617.1,440.5 L1618.2,438.3 L1620.4,426.0 L1621.5,427.0 L1622.7,426.5 L1623.8,427.0 L1624.9,427.1 L1626.0,428.4 L1627.1,431.4 L1628.2,433.8 L1631.1,452.8 L1633.8,438.3 L1636.0,449.4 L1639.4,432.7 L1640.8,432.6 L1642.2,431.6 L1643.6,430.8 L1645.0,429.3 L1646.1,427.9 L1647.2,424.4 L1648.3,422.6 L1650.5,418.2 L1651.6,416.4 L1652.8,415.3 L1653.9,414.8 L1656.1,400.3 L1658.4,391.4 L1660.1,382.4 L1661.4,383.2 L1662.6,384.3 L1663.9,384.7 L1665.0,384.0 L1666.2,382.1 L1667.3,380.2 L1668.4,381.3 L1669.5,382.3 L1670.7,382.6 L1671.8,383.5 L1673.3,382.5 L1674.7,380.5 L1676.2,380.2 L1677.3,379.3 L1678.5,376.9 L1679.6,376.8 L1680.7,374.6 L1681.8,373.5 L1683.0,371.4 L1684.1,369.7 L1685.2,369.0 L1686.3,367.5 L1687.4,367.0 L1688.5,365.7 L1689.6,367.5 L1690.8,367.9 L1691.9,370.1 L1693.0,369.0 L1694.1,369.4 L1695.2,369.0 L1696.5,371.0 L1697.7,372.5 L1699.0,374.6 L1699.9,382.4 L1701.2,360.1 L1702.6,360.3 L1703.9,361.7 L1705.3,362.3 L1706.8,361.4 L1708.2,361.9 L1709.7,362.3 L1710.8,362.2 L1712.0,363.1 L1713.1,362.3" fill="none" stroke="#ffffff" stroke-width="2" stroke-linejoin="round" stroke-linecap="round" opacity="0.95"/><g clip-path="url(#ca)" opacity="0.85"><g clip-path="url(#up)"><path d="M115.2,130.0 L115.8,210.0 L118.2,305.0 L119.1,326.8 L120.6,338.7 L122.1,353.6 L122.9,374.4 L125.1,377.4 L127.0,381.8 L128.5,374.4 L130.6,372.9 L131.8,380.4 L134.0,375.1 L135.0,375.3 L136.0,375.5 L137.0,376.6 L138.0,376.6 L139.0,375.4 L140.0,375.9 L141.4,378.6 L142.9,381.1 L143.9,380.6 L144.9,379.8 L145.9,380.4 L148.5,372.9 L151.1,375.1 L152.1,375.0 L153.1,374.1 L154.1,374.8 L155.1,375.3 L156.2,375.4 L157.2,376.8 L158.5,376.1 L159.8,376.7 L161.0,377.4 L162.3,376.8 L163.5,376.7 L164.7,377.5 L166.0,378.8 L167.2,379.9 L168.4,379.7 L169.6,380.0 L170.9,379.8 L172.1,381.0 L173.4,379.5 L174.6,380.5 L175.9,380.9 L177.1,379.7 L178.4,379.3 L179.7,379.7 L181.1,380.0 L182.6,381.7 L183.6,375.6 L184.9,375.2 L186.3,375.4 L187.3,377.0 L188.4,376.9 L189.4,378.5 L192.0,376.8 L193.4,376.9 L194.8,376.9 L196.3,376.3 L197.7,376.6 L199.1,376.4 L200.3,375.9 L201.6,376.1 L202.8,376.6 L204.1,377.7 L205.3,377.6 L206.5,377.5 L207.7,377.3 L209.0,377.9 L210.2,377.7 L211.4,377.8 L212.4,377.6 L213.5,378.6 L214.5,378.2 L215.5,380.3 L216.6,381.1 L217.6,383.3 L220.1,378.5 L221.1,377.8 L222.2,376.9 L223.2,376.1 L224.6,376.7 L226.0,376.4 L227.4,375.5 L228.8,375.8 L230.1,377.0 L231.4,375.8 L232.6,376.6 L233.9,377.1 L235.3,377.0 L236.8,375.3 L238.2,375.4 L239.6,374.8 L241.6,375.6 L243.7,373.0 L246.2,375.1 L247.5,375.8 L248.8,378.2 L250.8,380.7 L252.4,373.5 L254.4,375.1 L255.4,372.7 L257.0,375.6 L259.5,373.8 L260.5,374.5 L261.6,375.1 L262.6,375.1 L263.9,374.8 L265.1,374.9 L266.4,373.4 L267.7,373.3 L268.9,373.4 L270.2,372.9 L271.4,372.7 L272.7,372.2 L273.9,372.0 L275.3,372.9 L276.6,373.5 L278.0,373.0 L279.2,372.7 L280.4,372.8 L281.7,371.4 L282.9,372.3 L284.1,371.7 L286.2,376.8 L287.2,374.6 L288.2,372.8 L289.2,369.5 L291.3,368.6 L292.3,370.0 L293.3,369.8 L294.3,371.0 L295.7,372.5 L297.0,374.7 L298.4,376.1 L299.6,376.5 L300.8,378.6 L301.9,379.3 L303.1,381.2 L304.5,380.9 L305.9,381.2 L307.3,382.9 L308.7,382.8 L309.9,382.8 L311.1,383.7 L312.3,384.8 L313.0,380.7 L313.8,385.3 L315.2,384.8 L316.5,385.3 L317.9,384.3 L319.2,384.8 L320.5,386.9 L323.0,384.3 L324.4,384.2 L325.7,384.4 L327.1,384.3 L327.6,319.3 L329.0,322.6 L330.4,324.5 L331.5,324.5 L332.6,324.1 L333.8,322.5 L334.9,322.3 L336.4,323.4 L337.8,324.5 L339.3,326.0 L340.6,326.9 L341.8,327.3 L343.1,326.1 L344.3,326.4 L345.6,326.8 L346.8,327.5 L349.0,322.3 L350.2,322.6 L351.5,323.7 L352.7,324.5 L354.0,327.7 L355.4,330.5 L356.5,328.6 L357.6,326.6 L358.7,326.0 L360.2,325.4 L361.7,324.9 L363.1,324.8 L364.6,325.1 L366.1,323.8 L367.1,324.9 L368.1,325.3 L369.1,326.0 L370.6,326.1 L372.1,326.2 L373.5,325.0 L375.0,326.4 L376.5,325.6 L377.5,326.7 L378.5,327.5 L379.5,327.5 L380.9,327.9 L382.2,327.0 L383.6,326.8 L385.0,326.1 L386.3,326.9 L387.7,326.5 L388.8,327.9 L390.0,330.1 L391.1,333.0 L392.3,331.5 L393.5,330.4 L394.7,329.7 L395.9,329.0 L403.3,318.6 L404.5,317.6 L405.7,317.3 L406.9,317.4 L408.1,317.1 L409.3,317.6 L410.8,316.4 L412.3,314.7 L413.8,314.6 L415.2,315.4 L416.7,315.0 L418.2,314.9 L419.3,313.2 L420.4,312.3 L421.5,311.6 L422.7,312.0 L423.9,312.6 L425.2,312.8 L426.4,314.1 L427.6,314.0 L428.9,313.5 L430.1,311.9 L430.7,375.0 L431.8,374.8 L433.0,374.6 L434.1,374.5 L435.4,372.6 L436.6,371.5 L437.9,371.0 L439.2,370.4 L440.6,370.0 L441.9,370.7 L443.3,369.2 L444.6,369.5 L446.1,369.6 L447.5,371.5 L448.6,372.1 L449.8,371.1 L450.9,370.1 L452.0,370.5 L453.2,371.2 L454.5,370.9 L455.7,372.4 L457.0,369.7 L458.4,366.8 L460.9,370.5 L462.2,371.7 L463.6,371.9 L464.9,372.0 L466.3,371.6 L467.6,372.4 L468.9,372.2 L470.1,371.9 L471.4,373.0 L472.6,372.7 L473.9,373.2 L475.1,372.7 L476.6,371.8 L478.0,371.1 L479.5,371.0 L480.8,371.4 L482.0,371.5 L483.2,371.0 L484.5,370.8 L485.8,370.6 L487.0,369.8 L488.4,371.0 L489.9,371.3 L491.2,367.7 L492.5,365.0 L493.6,365.8 L494.8,366.2 L495.9,367.2 L497.4,366.4 L498.9,366.5 L500.3,367.0 L501.8,367.0 L503.3,367.5 L504.3,367.6 L505.3,367.9 L506.3,366.8 L507.4,367.3 L508.6,368.7 L509.7,369.3 L510.8,369.0 L512.3,369.8 L513.8,368.8 L515.2,368.5 L516.7,369.0 L518.0,368.8 L519.2,369.1 L520.5,369.5 L521.7,370.6 L523.0,371.4 L524.2,371.0 L525.7,374.5 L527.4,368.3 L528.8,368.9 L530.3,368.1 L531.7,368.4 L533.2,368.6 L534.6,368.0 L536.1,368.1 L537.5,369.9 L539.0,371.2 L540.5,371.3 L541.8,371.8 L543.0,371.8 L544.2,371.4 L545.5,370.9 L546.8,372.0 L548.0,371.5 L549.4,370.2 L550.7,369.5 L552.4,371.3 L553.7,370.6 L554.9,369.6 L556.2,367.5 L557.7,367.7 L559.1,368.3 L561.1,374.2 L561.7,383.9 L563.1,383.7 L564.5,384.7 L566.0,384.3 L567.4,383.3 L568.8,383.9 L569.9,383.1 L571.0,382.9 L572.2,384.1 L573.3,383.2 L575.1,380.2 L576.3,383.2 L577.8,383.2 L579.2,382.1 L580.3,382.2 L581.5,384.1 L582.6,385.1 L583.7,384.9 L584.8,385.0 L586.0,384.3 L587.1,384.5 L588.2,384.3 L589.4,383.4 L590.7,382.9 L591.9,383.5 L594.1,386.1 L595.8,387.3 L596.2,404.0 L597.6,404.5 L598.9,403.7 L600.3,403.1 L601.6,403.6 L603.0,402.5 L604.3,402.5 L605.6,403.3 L606.9,403.3 L608.2,402.8 L609.5,401.2 L610.7,400.2 L612.0,399.5 L613.5,399.4 L615.0,399.5 L616.4,400.4 L617.9,400.0 L619.4,400.7 L620.7,400.5 L622.1,399.9 L623.4,401.2 L624.8,400.1 L626.1,400.3 L627.3,401.7 L628.6,403.4 L629.8,404.7 L632.0,416.6 L633.4,416.7 L634.7,415.3 L636.0,415.6 L637.4,414.3 L638.8,413.7 L640.2,413.9 L641.6,413.9 L643.1,413.1 L644.5,414.0 L646.0,413.6 L647.4,414.3 L648.6,413.7 L649.9,415.4 L651.1,414.6 L652.4,415.5 L653.6,416.2 L654.9,416.1 L656.4,415.9 L657.9,415.2 L659.3,415.2 L660.8,415.0 L662.3,414.6 L663.0,402.0 L664.5,414.6 L665.8,414.9 L667.1,413.5 L668.5,414.2 L669.8,413.9 L671.3,414.1 L672.8,414.9 L674.2,416.4 L675.7,416.6 L677.2,417.3 L678.7,416.6 L680.2,416.1 L681.6,415.6 L683.1,413.9 L684.6,413.2 L685.8,413.5 L687.0,413.5 L688.2,413.6 L689.4,414.1 L690.6,413.9 L692.1,414.0 L693.5,414.4 L695.0,414.6 L696.4,417.6 L697.7,420.6 L699.0,399.8 L701.0,414.6 L702.1,415.6 L703.2,415.4 L704.4,415.9 L705.5,415.4 L707.0,416.4 L708.5,415.3 L709.9,416.0 L711.4,416.1 L712.6,416.2 L713.8,415.2 L715.0,413.2 L716.2,412.5 L717.4,412.4 L718.9,412.5 L720.3,412.0 L721.8,412.5 L723.3,413.2 L724.6,412.6 L725.9,413.8 L727.2,414.2 L728.4,414.5 L729.7,413.4 L731.0,414.5 L732.3,414.3 L733.3,402.0 L734.5,418.8 L735.9,419.0 L737.3,417.9 L738.7,419.1 L740.0,419.1 L741.4,417.7 L742.8,418.8 L744.2,417.9 L745.7,417.8 L747.2,418.1 L748.6,419.1 L750.1,418.9 L751.6,418.4 L753.1,417.6 L754.6,417.8 L756.0,417.8 L757.5,417.2 L759.0,417.3 L760.2,416.9 L761.5,417.2 L762.8,418.0 L764.0,416.8 L765.2,417.9 L766.5,417.9 L768.0,405.0 L769.2,422.1 L770.4,422.1 L771.5,421.4 L772.7,422.0 L773.9,422.4 L775.2,422.8 L776.5,422.7 L777.8,422.0 L779.0,423.8 L780.3,423.6 L781.6,424.0 L782.9,423.3 L784.4,422.4 L785.9,422.6 L787.3,422.0 L788.8,423.2 L790.3,422.1 L791.8,422.4 L793.3,421.5 L794.8,421.7 L796.2,422.3 L797.7,421.3 L799.1,422.4 L800.5,421.9 L801.9,422.8 L803.2,402.0 L804.4,414.6 L805.7,413.8 L807.1,415.1 L808.4,414.3 L809.8,414.4 L811.1,413.9 L812.6,413.5 L814.1,413.7 L815.6,415.2 L817.0,415.0 L818.5,414.7 L820.0,416.6 L821.5,416.3 L823.0,416.4 L824.2,416.5 L825.5,414.8 L826.8,415.8 L828.0,414.0 L829.2,415.0 L830.5,413.9 L831.8,413.4 L833.1,412.9 L834.4,412.9 L835.7,412.4 L836.4,396.8 L837.9,411.7 L839.1,412.1 L840.3,410.6 L841.5,410.0 L842.7,410.3 L843.9,409.9 L845.4,410.9 L846.8,412.1 L848.3,414.3 L849.5,413.3 L850.7,412.7 L851.9,412.6 L853.1,412.4 L854.3,412.4 L855.7,412.2 L857.1,413.3 L858.6,412.6 L860.0,413.2 L861.0,413.7 L862.0,413.6 L863.0,414.7 L864.5,413.9 L866.0,412.7 L867.4,412.6 L868.9,412.5 L871.2,399.1 L872.6,412.5 L873.9,411.6 L875.3,412.9 L876.6,412.6 L878.0,411.9 L879.3,412.5 L880.5,412.8 L881.8,414.0 L883.0,412.9 L884.3,414.5 L885.5,414.2 L886.8,414.7 L888.3,414.9 L889.8,415.6 L891.2,415.0 L892.7,415.4 L894.2,415.5 L895.4,416.0 L896.6,416.6 L897.8,415.6 L899.0,416.7 L900.2,416.2 L901.5,418.2 L902.8,419.8 L904.1,421.1 L905.4,422.9 L906.9,406.5 L908.2,406.6 L909.5,406.4 L910.8,407.0 L912.1,408.0 L913.6,407.4 L915.1,408.8 L916.5,408.0 L918.0,408.0 L919.5,408.8 L920.7,408.5 L921.9,410.3 L923.1,410.8 L924.3,410.9 L925.5,411.0 L926.5,412.1 L927.5,413.5 L928.5,415.5 L930.0,416.2 L931.5,417.6 L932.9,418.2 L934.4,419.9 L935.8,419.7 L937.2,419.3 L938.6,419.6 L940.4,408.8 L941.9,409.4 L943.4,409.2 L944.8,408.1 L946.3,407.3 L947.8,408.4 L949.3,407.3 L950.8,406.7 L952.3,406.4 L953.7,405.5 L955.2,405.9 L956.7,405.8 L958.0,406.0 L959.2,406.3 L960.5,406.0 L961.7,406.8 L963.0,406.2 L964.2,407.3 L965.7,406.7 L967.2,406.3 L968.7,406.7 L970.1,405.9 L971.6,405.8 L973.1,406.5 L974.3,390.2 L975.4,388.8 L976.5,387.7 L977.6,387.2 L979.1,387.7 L980.5,387.9 L982.0,388.6 L983.5,388.4 L984.5,388.2 L985.5,387.8 L986.5,386.9 L987.6,388.1 L988.8,387.8 L989.9,388.2 L991.0,389.0 L992.2,391.3 L993.5,391.2 L994.7,393.2 L995.9,392.6 L997.2,391.5 L998.4,390.2 L999.5,389.2 L1000.6,390.4 L1001.8,390.3 L1002.9,389.4 L1004.4,389.9 L1005.8,390.4 L1007.3,390.2 L1008.8,393.9 L1010.0,387.2 L1011.1,388.7 L1012.2,388.4 L1013.3,389.9 L1014.8,391.3 L1016.2,392.6 L1017.7,393.9 L1018.7,395.0 L1019.7,395.4 L1020.7,395.4 L1021.8,395.6 L1023.0,394.8 L1024.1,395.0 L1025.2,393.9 L1026.2,393.0 L1027.2,391.8 L1028.2,390.2 L1029.6,387.9 L1030.9,386.3 L1032.1,384.8 L1033.4,384.5 L1034.9,384.1 L1036.3,384.8 L1037.8,385.4 L1039.0,382.8 L1040.3,382.3 L1041.5,379.8 L1043.8,385.7 L1045.3,381.5 L1046.8,381.3 L1048.2,381.1 L1049.7,380.5 L1051.0,381.9 L1052.2,383.1 L1053.5,383.9 L1055.0,384.0 L1056.5,383.3 L1057.9,384.9 L1059.4,384.5 L1060.6,384.7 L1061.8,384.1 L1063.0,384.0 L1064.2,384.0 L1065.4,383.5 L1066.9,383.2 L1068.3,384.9 L1069.8,384.5 L1071.3,385.4 L1072.4,384.5 L1073.5,384.8 L1074.7,385.5 L1075.8,385.0 L1078.0,387.9 L1079.2,384.9 L1080.5,383.4 L1081.7,380.5 L1082.5,380.0 L1083.8,381.2 L1085.0,380.6 L1086.2,380.7 L1087.5,381.2 L1088.8,381.0 L1090.0,381.1 L1091.2,381.0 L1092.5,380.2 L1095.0,376.9 L1096.2,376.6 L1097.5,376.1 L1098.8,375.2 L1100.0,375.3 L1101.2,376.3 L1102.5,377.8 L1103.8,376.7 L1105.0,377.0 L1106.2,376.0 L1107.7,375.8 L1109.1,376.5 L1110.6,376.5 L1111.6,373.7 L1112.7,371.8 L1113.8,370.6 L1116.2,371.9 L1118.8,364.4 L1120.6,362.2 L1123.1,363.1 L1124.4,361.7 L1125.6,361.3 L1126.9,360.0 L1129.4,363.1 L1131.2,370.0 L1135.0,378.1 L1136.2,379.9 L1137.5,381.3 L1138.8,382.5 L1139.8,384.0 L1140.9,386.3 L1141.9,388.1 L1142.9,387.6 L1144.0,387.2 L1145.0,386.9 L1146.9,385.6 L1148.8,396.2 L1151.0,403.8 L1152.5,387.5 L1155.0,395.0 L1156.9,398.1 L1158.2,440.0 L1159.6,441.4 L1161.1,444.9 L1162.5,446.2 L1163.8,445.5 L1165.0,446.7 L1166.2,446.5 L1167.5,445.5 L1171.2,453.8 L1177.5,463.8 L1181.2,476.2 L1183.8,457.5 L1185.0,457.5 L1186.2,459.1 L1187.5,460.0 L1189.0,480.0 L1191.5,510.3 L1192.8,511.9 L1194.2,513.3 L1195.5,513.5 L1196.6,513.7 L1197.7,513.7 L1198.8,514.4 L1204.5,534.0 L1206.0,534.4 L1207.4,536.6 L1208.8,536.2 L1210.3,537.6 L1211.5,538.7 L1212.8,538.9 L1214.0,540.5 L1215.2,541.4 L1216.6,545.0 L1218.0,547.0 L1219.3,520.0 L1220.9,539.0 L1222.9,553.6 L1224.2,554.4 L1225.6,557.1 L1227.0,558.0 L1228.3,559.4 L1230.4,556.0 L1231.5,578.0 L1236.5,567.5 L1237.7,567.8 L1239.0,567.1 L1240.2,565.9 L1241.4,566.0 L1243.0,570.0 L1245.5,569.2 L1247.0,571.3 L1249.5,568.4 L1252.0,542.2 L1254.0,560.2 L1256.9,550.4 L1257.9,550.5 L1258.9,549.2 L1259.9,548.7 L1261.8,502.0 L1263.2,500.1 L1264.5,499.0 L1265.9,498.8 L1267.2,499.6 L1268.4,500.4 L1269.7,501.3 L1272.5,492.3 L1278.2,483.3 L1283.8,475.0 L1285.0,491.2 L1286.2,472.5 L1287.5,470.9 L1288.8,469.4 L1290.0,468.5 L1291.2,467.5 L1293.0,437.5 L1295.0,420.0 L1296.2,419.0 L1297.5,419.4 L1298.8,417.2 L1300.0,417.5 L1305.0,407.5 L1308.6,394.3 L1310.7,390.0 L1312.0,390.6 L1313.2,391.0 L1314.5,389.8 L1315.7,390.7 L1317.9,371.4 L1320.0,368.6 L1321.4,396.4 L1323.1,370.0 L1324.4,367.2 L1325.7,362.9 L1327.1,361.5 L1328.6,360.0 L1330.0,357.1 L1331.4,355.7 L1332.9,330.0 L1334.3,328.7 L1335.7,327.9 L1337.2,327.9 L1338.6,328.3 L1340.0,325.0 L1341.4,340.7 L1342.6,339.5 L1343.8,336.6 L1345.0,334.3 L1347.1,332.1 L1348.3,332.1 L1349.5,332.5 L1350.7,332.9 L1352.4,353.6 L1353.6,342.1 L1354.8,340.8 L1355.9,339.4 L1357.1,339.3 L1358.5,338.1 L1360.0,338.3 L1361.5,341.2 L1362.9,342.9 L1364.3,340.7 L1365.7,339.3 L1367.2,341.5 L1368.6,342.1 L1369.8,340.2 L1370.9,338.9 L1372.1,337.9 L1373.3,338.1 L1374.5,337.6 L1375.7,338.3 L1377.1,339.8 L1378.6,342.7 L1380.0,343.6 L1381.4,343.7 L1382.9,342.9 L1384.3,341.7 L1385.5,342.6 L1386.7,343.7 L1387.9,343.6 L1390.0,338.6 L1391.7,354.3 L1392.6,359.3 L1394.0,358.6 L1395.7,371.4 L1397.9,384.3 L1399.3,384.4 L1400.7,382.9 L1402.3,392.3 L1404.5,413.5 L1405.6,411.4 L1406.8,409.4 L1407.9,406.8 L1411.2,429.1 L1415.7,444.8 L1417.9,476.0 L1420.1,509.5 L1421.2,510.9 L1422.4,514.4 L1423.5,516.2 L1425.3,489.4 L1426.7,491.6 L1428.0,493.9 L1429.1,492.9 L1430.2,491.2 L1431.3,489.4 L1432.7,489.3 L1434.1,489.1 L1435.5,491.0 L1436.9,490.5 L1438.2,490.2 L1439.6,491.2 L1440.9,491.7 L1442.5,512.9 L1444.0,491.7 L1445.3,492.2 L1446.6,493.0 L1447.9,494.6 L1449.2,495.0 L1450.3,497.0 L1451.4,496.8 L1452.5,498.4 L1454.8,493.9 L1456.5,510.6 L1458.8,485.0 L1461.0,479.4 L1461.9,498.4 L1463.2,496.8 L1464.6,494.3 L1465.9,492.8 L1467.3,491.8 L1468.7,490.4 L1470.1,488.8 L1471.5,488.3 L1472.9,487.4 L1474.3,487.2 L1475.7,488.2 L1477.1,487.2 L1478.2,486.1 L1479.3,484.4 L1480.4,483.8 L1481.5,486.4 L1482.7,488.4 L1483.8,489.4 L1484.9,488.6 L1486.0,487.3 L1487.1,487.2 L1489.4,512.9 L1491.6,511.8 L1493.2,467.1 L1494.7,464.3 L1496.1,462.6 L1498.3,447.0 L1500.5,451.5 L1502.8,457.0 L1505.0,444.8 L1507.9,434.7 L1510.6,450.3 L1512.8,428.0 L1514.2,423.9 L1515.5,421.3 L1516.8,436.9 L1519.5,413.5 L1521.8,391.2 L1524.0,383.3 L1525.8,413.5 L1527.3,390.0 L1528.8,387.5 L1530.2,385.6 L1531.6,387.7 L1532.9,391.2 L1535.2,390.0 L1537.4,407.9 L1538.5,406.7 L1539.6,406.0 L1540.7,405.7 L1543.0,403.4 L1543.6,382.2 L1544.9,391.4 L1546.7,399.2 L1547.8,399.0 L1548.9,399.2 L1550.0,398.1 L1552.3,413.7 L1553.8,415.6 L1555.2,416.5 L1556.7,418.2 L1559.0,450.5 L1560.5,447.6 L1561.9,445.0 L1563.4,419.3 L1565.7,434.9 L1567.2,435.7 L1568.6,436.1 L1570.1,437.1 L1571.2,438.2 L1572.3,439.1 L1573.5,440.9 L1574.6,442.7 L1576.0,445.2 L1577.4,445.4 L1578.8,447.7 L1580.2,449.4 L1581.3,449.9 L1582.5,450.6 L1583.6,449.7 L1584.7,450.5 L1585.8,451.2 L1586.9,452.3 L1588.0,453.9 L1589.3,452.2 L1590.5,450.8 L1591.8,449.4 L1594.7,479.6 L1596.9,456.1 L1599.2,476.2 L1603.6,467.3 L1604.7,466.3 L1605.9,464.2 L1607.0,461.7 L1611.5,451.7 L1612.6,449.7 L1613.7,445.6 L1614.8,443.8 L1615.9,441.1 L1617.1,440.5 L1618.2,438.3 L1620.4,426.0 L1621.5,427.0 L1622.7,426.5 L1623.8,427.0 L1624.9,427.1 L1626.0,428.4 L1627.1,431.4 L1628.2,433.8 L1631.1,452.8 L1633.8,438.3 L1636.0,449.4 L1639.4,432.7 L1640.8,432.6 L1642.2,431.6 L1643.6,430.8 L1645.0,429.3 L1646.1,427.9 L1647.2,424.4 L1648.3,422.6 L1650.5,418.2 L1651.6,416.4 L1652.8,415.3 L1653.9,414.8 L1656.1,400.3 L1658.4,391.4 L1660.1,382.4 L1661.4,383.2 L1662.6,384.3 L1663.9,384.7 L1665.0,384.0 L1666.2,382.1 L1667.3,380.2 L1668.4,381.3 L1669.5,382.3 L1670.7,382.6 L1671.8,383.5 L1673.3,382.5 L1674.7,380.5 L1676.2,380.2 L1677.3,379.3 L1678.5,376.9 L1679.6,376.8 L1680.7,374.6 L1681.8,373.5 L1683.0,371.4 L1684.1,369.7 L1685.2,369.0 L1686.3,367.5 L1687.4,367.0 L1688.5,365.7 L1689.6,367.5 L1690.8,367.9 L1691.9,370.1 L1693.0,369.0 L1694.1,369.4 L1695.2,369.0 L1696.5,371.0 L1697.7,372.5 L1699.0,374.6 L1699.9,382.4 L1701.2,360.1 L1702.6,360.3 L1703.9,361.7 L1705.3,362.3 L1706.8,361.4 L1708.2,361.9 L1709.7,362.3 L1710.8,362.2 L1712.0,363.1 L1713.1,362.3" fill="none" stroke="#d4ecc9" stroke-width="2" stroke-linejoin="round"/></g><g clip-path="url(#dn)"><path d="M115.2,130.0 L115.8,210.0 L118.2,305.0 L119.1,326.8 L120.6,338.7 L122.1,353.6 L122.9,374.4 L125.1,377.4 L127.0,381.8 L128.5,374.4 L130.6,372.9 L131.8,380.4 L134.0,375.1 L135.0,375.3 L136.0,375.5 L137.0,376.6 L138.0,376.6 L139.0,375.4 L140.0,375.9 L141.4,378.6 L142.9,381.1 L143.9,380.6 L144.9,379.8 L145.9,380.4 L148.5,372.9 L151.1,375.1 L152.1,375.0 L153.1,374.1 L154.1,374.8 L155.1,375.3 L156.2,375.4 L157.2,376.8 L158.5,376.1 L159.8,376.7 L161.0,377.4 L162.3,376.8 L163.5,376.7 L164.7,377.5 L166.0,378.8 L167.2,379.9 L168.4,379.7 L169.6,380.0 L170.9,379.8 L172.1,381.0 L173.4,379.5 L174.6,380.5 L175.9,380.9 L177.1,379.7 L178.4,379.3 L179.7,379.7 L181.1,380.0 L182.6,381.7 L183.6,375.6 L184.9,375.2 L186.3,375.4 L187.3,377.0 L188.4,376.9 L189.4,378.5 L192.0,376.8 L193.4,376.9 L194.8,376.9 L196.3,376.3 L197.7,376.6 L199.1,376.4 L200.3,375.9 L201.6,376.1 L202.8,376.6 L204.1,377.7 L205.3,377.6 L206.5,377.5 L207.7,377.3 L209.0,377.9 L210.2,377.7 L211.4,377.8 L212.4,377.6 L213.5,378.6 L214.5,378.2 L215.5,380.3 L216.6,381.1 L217.6,383.3 L220.1,378.5 L221.1,377.8 L222.2,376.9 L223.2,376.1 L224.6,376.7 L226.0,376.4 L227.4,375.5 L228.8,375.8 L230.1,377.0 L231.4,375.8 L232.6,376.6 L233.9,377.1 L235.3,377.0 L236.8,375.3 L238.2,375.4 L239.6,374.8 L241.6,375.6 L243.7,373.0 L246.2,375.1 L247.5,375.8 L248.8,378.2 L250.8,380.7 L252.4,373.5 L254.4,375.1 L255.4,372.7 L257.0,375.6 L259.5,373.8 L260.5,374.5 L261.6,375.1 L262.6,375.1 L263.9,374.8 L265.1,374.9 L266.4,373.4 L267.7,373.3 L268.9,373.4 L270.2,372.9 L271.4,372.7 L272.7,372.2 L273.9,372.0 L275.3,372.9 L276.6,373.5 L278.0,373.0 L279.2,372.7 L280.4,372.8 L281.7,371.4 L282.9,372.3 L284.1,371.7 L286.2,376.8 L287.2,374.6 L288.2,372.8 L289.2,369.5 L291.3,368.6 L292.3,370.0 L293.3,369.8 L294.3,371.0 L295.7,372.5 L297.0,374.7 L298.4,376.1 L299.6,376.5 L300.8,378.6 L301.9,379.3 L303.1,381.2 L304.5,380.9 L305.9,381.2 L307.3,382.9 L308.7,382.8 L309.9,382.8 L311.1,383.7 L312.3,384.8 L313.0,380.7 L313.8,385.3 L315.2,384.8 L316.5,385.3 L317.9,384.3 L319.2,384.8 L320.5,386.9 L323.0,384.3 L324.4,384.2 L325.7,384.4 L327.1,384.3 L327.6,319.3 L329.0,322.6 L330.4,324.5 L331.5,324.5 L332.6,324.1 L333.8,322.5 L334.9,322.3 L336.4,323.4 L337.8,324.5 L339.3,326.0 L340.6,326.9 L341.8,327.3 L343.1,326.1 L344.3,326.4 L345.6,326.8 L346.8,327.5 L349.0,322.3 L350.2,322.6 L351.5,323.7 L352.7,324.5 L354.0,327.7 L355.4,330.5 L356.5,328.6 L357.6,326.6 L358.7,326.0 L360.2,325.4 L361.7,324.9 L363.1,324.8 L364.6,325.1 L366.1,323.8 L367.1,324.9 L368.1,325.3 L369.1,326.0 L370.6,326.1 L372.1,326.2 L373.5,325.0 L375.0,326.4 L376.5,325.6 L377.5,326.7 L378.5,327.5 L379.5,327.5 L380.9,327.9 L382.2,327.0 L383.6,326.8 L385.0,326.1 L386.3,326.9 L387.7,326.5 L388.8,327.9 L390.0,330.1 L391.1,333.0 L392.3,331.5 L393.5,330.4 L394.7,329.7 L395.9,329.0 L403.3,318.6 L404.5,317.6 L405.7,317.3 L406.9,317.4 L408.1,317.1 L409.3,317.6 L410.8,316.4 L412.3,314.7 L413.8,314.6 L415.2,315.4 L416.7,315.0 L418.2,314.9 L419.3,313.2 L420.4,312.3 L421.5,311.6 L422.7,312.0 L423.9,312.6 L425.2,312.8 L426.4,314.1 L427.6,314.0 L428.9,313.5 L430.1,311.9 L430.7,375.0 L431.8,374.8 L433.0,374.6 L434.1,374.5 L435.4,372.6 L436.6,371.5 L437.9,371.0 L439.2,370.4 L440.6,370.0 L441.9,370.7 L443.3,369.2 L444.6,369.5 L446.1,369.6 L447.5,371.5 L448.6,372.1 L449.8,371.1 L450.9,370.1 L452.0,370.5 L453.2,371.2 L454.5,370.9 L455.7,372.4 L457.0,369.7 L458.4,366.8 L460.9,370.5 L462.2,371.7 L463.6,371.9 L464.9,372.0 L466.3,371.6 L467.6,372.4 L468.9,372.2 L470.1,371.9 L471.4,373.0 L472.6,372.7 L473.9,373.2 L475.1,372.7 L476.6,371.8 L478.0,371.1 L479.5,371.0 L480.8,371.4 L482.0,371.5 L483.2,371.0 L484.5,370.8 L485.8,370.6 L487.0,369.8 L488.4,371.0 L489.9,371.3 L491.2,367.7 L492.5,365.0 L493.6,365.8 L494.8,366.2 L495.9,367.2 L497.4,366.4 L498.9,366.5 L500.3,367.0 L501.8,367.0 L503.3,367.5 L504.3,367.6 L505.3,367.9 L506.3,366.8 L507.4,367.3 L508.6,368.7 L509.7,369.3 L510.8,369.0 L512.3,369.8 L513.8,368.8 L515.2,368.5 L516.7,369.0 L518.0,368.8 L519.2,369.1 L520.5,369.5 L521.7,370.6 L523.0,371.4 L524.2,371.0 L525.7,374.5 L527.4,368.3 L528.8,368.9 L530.3,368.1 L531.7,368.4 L533.2,368.6 L534.6,368.0 L536.1,368.1 L537.5,369.9 L539.0,371.2 L540.5,371.3 L541.8,371.8 L543.0,371.8 L544.2,371.4 L545.5,370.9 L546.8,372.0 L548.0,371.5 L549.4,370.2 L550.7,369.5 L552.4,371.3 L553.7,370.6 L554.9,369.6 L556.2,367.5 L557.7,367.7 L559.1,368.3 L561.1,374.2 L561.7,383.9 L563.1,383.7 L564.5,384.7 L566.0,384.3 L567.4,383.3 L568.8,383.9 L569.9,383.1 L571.0,382.9 L572.2,384.1 L573.3,383.2 L575.1,380.2 L576.3,383.2 L577.8,383.2 L579.2,382.1 L580.3,382.2 L581.5,384.1 L582.6,385.1 L583.7,384.9 L584.8,385.0 L586.0,384.3 L587.1,384.5 L588.2,384.3 L589.4,383.4 L590.7,382.9 L591.9,383.5 L594.1,386.1 L595.8,387.3 L596.2,404.0 L597.6,404.5 L598.9,403.7 L600.3,403.1 L601.6,403.6 L603.0,402.5 L604.3,402.5 L605.6,403.3 L606.9,403.3 L608.2,402.8 L609.5,401.2 L610.7,400.2 L612.0,399.5 L613.5,399.4 L615.0,399.5 L616.4,400.4 L617.9,400.0 L619.4,400.7 L620.7,400.5 L622.1,399.9 L623.4,401.2 L624.8,400.1 L626.1,400.3 L627.3,401.7 L628.6,403.4 L629.8,404.7 L632.0,416.6 L633.4,416.7 L634.7,415.3 L636.0,415.6 L637.4,414.3 L638.8,413.7 L640.2,413.9 L641.6,413.9 L643.1,413.1 L644.5,414.0 L646.0,413.6 L647.4,414.3 L648.6,413.7 L649.9,415.4 L651.1,414.6 L652.4,415.5 L653.6,416.2 L654.9,416.1 L656.4,415.9 L657.9,415.2 L659.3,415.2 L660.8,415.0 L662.3,414.6 L663.0,402.0 L664.5,414.6 L665.8,414.9 L667.1,413.5 L668.5,414.2 L669.8,413.9 L671.3,414.1 L672.8,414.9 L674.2,416.4 L675.7,416.6 L677.2,417.3 L678.7,416.6 L680.2,416.1 L681.6,415.6 L683.1,413.9 L684.6,413.2 L685.8,413.5 L687.0,413.5 L688.2,413.6 L689.4,414.1 L690.6,413.9 L692.1,414.0 L693.5,414.4 L695.0,414.6 L696.4,417.6 L697.7,420.6 L699.0,399.8 L701.0,414.6 L702.1,415.6 L703.2,415.4 L704.4,415.9 L705.5,415.4 L707.0,416.4 L708.5,415.3 L709.9,416.0 L711.4,416.1 L712.6,416.2 L713.8,415.2 L715.0,413.2 L716.2,412.5 L717.4,412.4 L718.9,412.5 L720.3,412.0 L721.8,412.5 L723.3,413.2 L724.6,412.6 L725.9,413.8 L727.2,414.2 L728.4,414.5 L729.7,413.4 L731.0,414.5 L732.3,414.3 L733.3,402.0 L734.5,418.8 L735.9,419.0 L737.3,417.9 L738.7,419.1 L740.0,419.1 L741.4,417.7 L742.8,418.8 L744.2,417.9 L745.7,417.8 L747.2,418.1 L748.6,419.1 L750.1,418.9 L751.6,418.4 L753.1,417.6 L754.6,417.8 L756.0,417.8 L757.5,417.2 L759.0,417.3 L760.2,416.9 L761.5,417.2 L762.8,418.0 L764.0,416.8 L765.2,417.9 L766.5,417.9 L768.0,405.0 L769.2,422.1 L770.4,422.1 L771.5,421.4 L772.7,422.0 L773.9,422.4 L775.2,422.8 L776.5,422.7 L777.8,422.0 L779.0,423.8 L780.3,423.6 L781.6,424.0 L782.9,423.3 L784.4,422.4 L785.9,422.6 L787.3,422.0 L788.8,423.2 L790.3,422.1 L791.8,422.4 L793.3,421.5 L794.8,421.7 L796.2,422.3 L797.7,421.3 L799.1,422.4 L800.5,421.9 L801.9,422.8 L803.2,402.0 L804.4,414.6 L805.7,413.8 L807.1,415.1 L808.4,414.3 L809.8,414.4 L811.1,413.9 L812.6,413.5 L814.1,413.7 L815.6,415.2 L817.0,415.0 L818.5,414.7 L820.0,416.6 L821.5,416.3 L823.0,416.4 L824.2,416.5 L825.5,414.8 L826.8,415.8 L828.0,414.0 L829.2,415.0 L830.5,413.9 L831.8,413.4 L833.1,412.9 L834.4,412.9 L835.7,412.4 L836.4,396.8 L837.9,411.7 L839.1,412.1 L840.3,410.6 L841.5,410.0 L842.7,410.3 L843.9,409.9 L845.4,410.9 L846.8,412.1 L848.3,414.3 L849.5,413.3 L850.7,412.7 L851.9,412.6 L853.1,412.4 L854.3,412.4 L855.7,412.2 L857.1,413.3 L858.6,412.6 L860.0,413.2 L861.0,413.7 L862.0,413.6 L863.0,414.7 L864.5,413.9 L866.0,412.7 L867.4,412.6 L868.9,412.5 L871.2,399.1 L872.6,412.5 L873.9,411.6 L875.3,412.9 L876.6,412.6 L878.0,411.9 L879.3,412.5 L880.5,412.8 L881.8,414.0 L883.0,412.9 L884.3,414.5 L885.5,414.2 L886.8,414.7 L888.3,414.9 L889.8,415.6 L891.2,415.0 L892.7,415.4 L894.2,415.5 L895.4,416.0 L896.6,416.6 L897.8,415.6 L899.0,416.7 L900.2,416.2 L901.5,418.2 L902.8,419.8 L904.1,421.1 L905.4,422.9 L906.9,406.5 L908.2,406.6 L909.5,406.4 L910.8,407.0 L912.1,408.0 L913.6,407.4 L915.1,408.8 L916.5,408.0 L918.0,408.0 L919.5,408.8 L920.7,408.5 L921.9,410.3 L923.1,410.8 L924.3,410.9 L925.5,411.0 L926.5,412.1 L927.5,413.5 L928.5,415.5 L930.0,416.2 L931.5,417.6 L932.9,418.2 L934.4,419.9 L935.8,419.7 L937.2,419.3 L938.6,419.6 L940.4,408.8 L941.9,409.4 L943.4,409.2 L944.8,408.1 L946.3,407.3 L947.8,408.4 L949.3,407.3 L950.8,406.7 L952.3,406.4 L953.7,405.5 L955.2,405.9 L956.7,405.8 L958.0,406.0 L959.2,406.3 L960.5,406.0 L961.7,406.8 L963.0,406.2 L964.2,407.3 L965.7,406.7 L967.2,406.3 L968.7,406.7 L970.1,405.9 L971.6,405.8 L973.1,406.5 L974.3,390.2 L975.4,388.8 L976.5,387.7 L977.6,387.2 L979.1,387.7 L980.5,387.9 L982.0,388.6 L983.5,388.4 L984.5,388.2 L985.5,387.8 L986.5,386.9 L987.6,388.1 L988.8,387.8 L989.9,388.2 L991.0,389.0 L992.2,391.3 L993.5,391.2 L994.7,393.2 L995.9,392.6 L997.2,391.5 L998.4,390.2 L999.5,389.2 L1000.6,390.4 L1001.8,390.3 L1002.9,389.4 L1004.4,389.9 L1005.8,390.4 L1007.3,390.2 L1008.8,393.9 L1010.0,387.2 L1011.1,388.7 L1012.2,388.4 L1013.3,389.9 L1014.8,391.3 L1016.2,392.6 L1017.7,393.9 L1018.7,395.0 L1019.7,395.4 L1020.7,395.4 L1021.8,395.6 L1023.0,394.8 L1024.1,395.0 L1025.2,393.9 L1026.2,393.0 L1027.2,391.8 L1028.2,390.2 L1029.6,387.9 L1030.9,386.3 L1032.1,384.8 L1033.4,384.5 L1034.9,384.1 L1036.3,384.8 L1037.8,385.4 L1039.0,382.8 L1040.3,382.3 L1041.5,379.8 L1043.8,385.7 L1045.3,381.5 L1046.8,381.3 L1048.2,381.1 L1049.7,380.5 L1051.0,381.9 L1052.2,383.1 L1053.5,383.9 L1055.0,384.0 L1056.5,383.3 L1057.9,384.9 L1059.4,384.5 L1060.6,384.7 L1061.8,384.1 L1063.0,384.0 L1064.2,384.0 L1065.4,383.5 L1066.9,383.2 L1068.3,384.9 L1069.8,384.5 L1071.3,385.4 L1072.4,384.5 L1073.5,384.8 L1074.7,385.5 L1075.8,385.0 L1078.0,387.9 L1079.2,384.9 L1080.5,383.4 L1081.7,380.5 L1082.5,380.0 L1083.8,381.2 L1085.0,380.6 L1086.2,380.7 L1087.5,381.2 L1088.8,381.0 L1090.0,381.1 L1091.2,381.0 L1092.5,380.2 L1095.0,376.9 L1096.2,376.6 L1097.5,376.1 L1098.8,375.2 L1100.0,375.3 L1101.2,376.3 L1102.5,377.8 L1103.8,376.7 L1105.0,377.0 L1106.2,376.0 L1107.7,375.8 L1109.1,376.5 L1110.6,376.5 L1111.6,373.7 L1112.7,371.8 L1113.8,370.6 L1116.2,371.9 L1118.8,364.4 L1120.6,362.2 L1123.1,363.1 L1124.4,361.7 L1125.6,361.3 L1126.9,360.0 L1129.4,363.1 L1131.2,370.0 L1135.0,378.1 L1136.2,379.9 L1137.5,381.3 L1138.8,382.5 L1139.8,384.0 L1140.9,386.3 L1141.9,388.1 L1142.9,387.6 L1144.0,387.2 L1145.0,386.9 L1146.9,385.6 L1148.8,396.2 L1151.0,403.8 L1152.5,387.5 L1155.0,395.0 L1156.9,398.1 L1158.2,440.0 L1159.6,441.4 L1161.1,444.9 L1162.5,446.2 L1163.8,445.5 L1165.0,446.7 L1166.2,446.5 L1167.5,445.5 L1171.2,453.8 L1177.5,463.8 L1181.2,476.2 L1183.8,457.5 L1185.0,457.5 L1186.2,459.1 L1187.5,460.0 L1189.0,480.0 L1191.5,510.3 L1192.8,511.9 L1194.2,513.3 L1195.5,513.5 L1196.6,513.7 L1197.7,513.7 L1198.8,514.4 L1204.5,534.0 L1206.0,534.4 L1207.4,536.6 L1208.8,536.2 L1210.3,537.6 L1211.5,538.7 L1212.8,538.9 L1214.0,540.5 L1215.2,541.4 L1216.6,545.0 L1218.0,547.0 L1219.3,520.0 L1220.9,539.0 L1222.9,553.6 L1224.2,554.4 L1225.6,557.1 L1227.0,558.0 L1228.3,559.4 L1230.4,556.0 L1231.5,578.0 L1236.5,567.5 L1237.7,567.8 L1239.0,567.1 L1240.2,565.9 L1241.4,566.0 L1243.0,570.0 L1245.5,569.2 L1247.0,571.3 L1249.5,568.4 L1252.0,542.2 L1254.0,560.2 L1256.9,550.4 L1257.9,550.5 L1258.9,549.2 L1259.9,548.7 L1261.8,502.0 L1263.2,500.1 L1264.5,499.0 L1265.9,498.8 L1267.2,499.6 L1268.4,500.4 L1269.7,501.3 L1272.5,492.3 L1278.2,483.3 L1283.8,475.0 L1285.0,491.2 L1286.2,472.5 L1287.5,470.9 L1288.8,469.4 L1290.0,468.5 L1291.2,467.5 L1293.0,437.5 L1295.0,420.0 L1296.2,419.0 L1297.5,419.4 L1298.8,417.2 L1300.0,417.5 L1305.0,407.5 L1308.6,394.3 L1310.7,390.0 L1312.0,390.6 L1313.2,391.0 L1314.5,389.8 L1315.7,390.7 L1317.9,371.4 L1320.0,368.6 L1321.4,396.4 L1323.1,370.0 L1324.4,367.2 L1325.7,362.9 L1327.1,361.5 L1328.6,360.0 L1330.0,357.1 L1331.4,355.7 L1332.9,330.0 L1334.3,328.7 L1335.7,327.9 L1337.2,327.9 L1338.6,328.3 L1340.0,325.0 L1341.4,340.7 L1342.6,339.5 L1343.8,336.6 L1345.0,334.3 L1347.1,332.1 L1348.3,332.1 L1349.5,332.5 L1350.7,332.9 L1352.4,353.6 L1353.6,342.1 L1354.8,340.8 L1355.9,339.4 L1357.1,339.3 L1358.5,338.1 L1360.0,338.3 L1361.5,341.2 L1362.9,342.9 L1364.3,340.7 L1365.7,339.3 L1367.2,341.5 L1368.6,342.1 L1369.8,340.2 L1370.9,338.9 L1372.1,337.9 L1373.3,338.1 L1374.5,337.6 L1375.7,338.3 L1377.1,339.8 L1378.6,342.7 L1380.0,343.6 L1381.4,343.7 L1382.9,342.9 L1384.3,341.7 L1385.5,342.6 L1386.7,343.7 L1387.9,343.6 L1390.0,338.6 L1391.7,354.3 L1392.6,359.3 L1394.0,358.6 L1395.7,371.4 L1397.9,384.3 L1399.3,384.4 L1400.7,382.9 L1402.3,392.3 L1404.5,413.5 L1405.6,411.4 L1406.8,409.4 L1407.9,406.8 L1411.2,429.1 L1415.7,444.8 L1417.9,476.0 L1420.1,509.5 L1421.2,510.9 L1422.4,514.4 L1423.5,516.2 L1425.3,489.4 L1426.7,491.6 L1428.0,493.9 L1429.1,492.9 L1430.2,491.2 L1431.3,489.4 L1432.7,489.3 L1434.1,489.1 L1435.5,491.0 L1436.9,490.5 L1438.2,490.2 L1439.6,491.2 L1440.9,491.7 L1442.5,512.9 L1444.0,491.7 L1445.3,492.2 L1446.6,493.0 L1447.9,494.6 L1449.2,495.0 L1450.3,497.0 L1451.4,496.8 L1452.5,498.4 L1454.8,493.9 L1456.5,510.6 L1458.8,485.0 L1461.0,479.4 L1461.9,498.4 L1463.2,496.8 L1464.6,494.3 L1465.9,492.8 L1467.3,491.8 L1468.7,490.4 L1470.1,488.8 L1471.5,488.3 L1472.9,487.4 L1474.3,487.2 L1475.7,488.2 L1477.1,487.2 L1478.2,486.1 L1479.3,484.4 L1480.4,483.8 L1481.5,486.4 L1482.7,488.4 L1483.8,489.4 L1484.9,488.6 L1486.0,487.3 L1487.1,487.2 L1489.4,512.9 L1491.6,511.8 L1493.2,467.1 L1494.7,464.3 L1496.1,462.6 L1498.3,447.0 L1500.5,451.5 L1502.8,457.0 L1505.0,444.8 L1507.9,434.7 L1510.6,450.3 L1512.8,428.0 L1514.2,423.9 L1515.5,421.3 L1516.8,436.9 L1519.5,413.5 L1521.8,391.2 L1524.0,383.3 L1525.8,413.5 L1527.3,390.0 L1528.8,387.5 L1530.2,385.6 L1531.6,387.7 L1532.9,391.2 L1535.2,390.0 L1537.4,407.9 L1538.5,406.7 L1539.6,406.0 L1540.7,405.7 L1543.0,403.4 L1543.6,382.2 L1544.9,391.4 L1546.7,399.2 L1547.8,399.0 L1548.9,399.2 L1550.0,398.1 L1552.3,413.7 L1553.8,415.6 L1555.2,416.5 L1556.7,418.2 L1559.0,450.5 L1560.5,447.6 L1561.9,445.0 L1563.4,419.3 L1565.7,434.9 L1567.2,435.7 L1568.6,436.1 L1570.1,437.1 L1571.2,438.2 L1572.3,439.1 L1573.5,440.9 L1574.6,442.7 L1576.0,445.2 L1577.4,445.4 L1578.8,447.7 L1580.2,449.4 L1581.3,449.9 L1582.5,450.6 L1583.6,449.7 L1584.7,450.5 L1585.8,451.2 L1586.9,452.3 L1588.0,453.9 L1589.3,452.2 L1590.5,450.8 L1591.8,449.4 L1594.7,479.6 L1596.9,456.1 L1599.2,476.2 L1603.6,467.3 L1604.7,466.3 L1605.9,464.2 L1607.0,461.7 L1611.5,451.7 L1612.6,449.7 L1613.7,445.6 L1614.8,443.8 L1615.9,441.1 L1617.1,440.5 L1618.2,438.3 L1620.4,426.0 L1621.5,427.0 L1622.7,426.5 L1623.8,427.0 L1624.9,427.1 L1626.0,428.4 L1627.1,431.4 L1628.2,433.8 L1631.1,452.8 L1633.8,438.3 L1636.0,449.4 L1639.4,432.7 L1640.8,432.6 L1642.2,431.6 L1643.6,430.8 L1645.0,429.3 L1646.1,427.9 L1647.2,424.4 L1648.3,422.6 L1650.5,418.2 L1651.6,416.4 L1652.8,415.3 L1653.9,414.8 L1656.1,400.3 L1658.4,391.4 L1660.1,382.4 L1661.4,383.2 L1662.6,384.3 L1663.9,384.7 L1665.0,384.0 L1666.2,382.1 L1667.3,380.2 L1668.4,381.3 L1669.5,382.3 L1670.7,382.6 L1671.8,383.5 L1673.3,382.5 L1674.7,380.5 L1676.2,380.2 L1677.3,379.3 L1678.5,376.9 L1679.6,376.8 L1680.7,374.6 L1681.8,373.5 L1683.0,371.4 L1684.1,369.7 L1685.2,369.0 L1686.3,367.5 L1687.4,367.0 L1688.5,365.7 L1689.6,367.5 L1690.8,367.9 L1691.9,370.1 L1693.0,369.0 L1694.1,369.4 L1695.2,369.0 L1696.5,371.0 L1697.7,372.5 L1699.0,374.6 L1699.9,382.4 L1701.2,360.1 L1702.6,360.3 L1703.9,361.7 L1705.3,362.3 L1706.8,361.4 L1708.2,361.9 L1709.7,362.3 L1710.8,362.2 L1712.0,363.1 L1713.1,362.3" fill="none" stroke="#f3b3a9" stroke-width="2" stroke-linejoin="round"/></g></g><rect x="558" y="67" width="29" height="2" fill="#3e2eb6"/><text x="593.5" y="73" font-size="14.5" fill="#f8f8fa" textLength="32.2" lengthAdjust="spacingAndGlyphs">price</text><rect x="650.5" y="67" width="30" height="2" fill="#ffffff"/><text x="686.5" y="73" font-size="14.5" fill="#f8f8fa" textLength="152.6" lengthAdjust="spacingAndGlyphs">total_whaleflow_90dma</text><circle cx="879" cy="67" r="7.5" fill="#6a9e60"/><text x="900.5" y="73" font-size="14.5" fill="#f8f8fa">positive_whaleflow_90ma</text><circle cx="1104.5" cy="67" r="7.5" fill="#b56b69"/><text x="1126" y="73" font-size="14.5" fill="#f8f8fa">negative_whaleflow_90ma</text></svg>
</body></html>
